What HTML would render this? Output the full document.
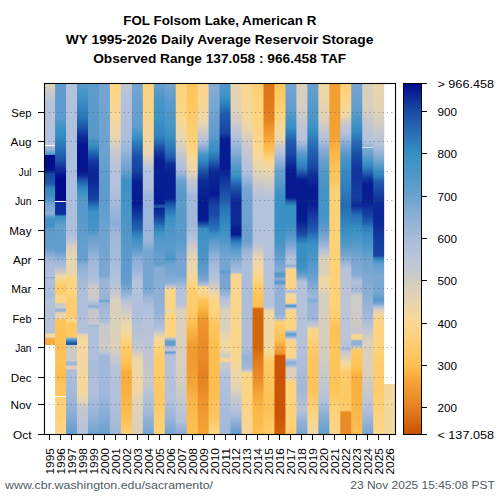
<!DOCTYPE html><html><head><meta charset="utf-8"><style>html,body{margin:0;padding:0;background:#fff;overflow:hidden;}svg{display:block;}text{font-family:"Liberation Sans",sans-serif;}</style></head><body><svg width="500" height="500" viewBox="0 0 500 500"><defs><linearGradient id="cb" gradientUnits="userSpaceOnUse" x1="0" y1="83" x2="0" y2="434"><stop offset="0.0000" stop-color="#000a8a"/><stop offset="0.0798" stop-color="#1a4aa5"/><stop offset="0.1396" stop-color="#2a6cb4"/><stop offset="0.1994" stop-color="#3590c4"/><stop offset="0.2621" stop-color="#4e98c8"/><stop offset="0.3219" stop-color="#6aa2cf"/><stop offset="0.3818" stop-color="#8cb0d4"/><stop offset="0.4416" stop-color="#a8bcd8"/><stop offset="0.4900" stop-color="#b8c4dc"/><stop offset="0.5271" stop-color="#c4c8d2"/><stop offset="0.5613" stop-color="#d0ccc4"/><stop offset="0.6182" stop-color="#e6d4b2"/><stop offset="0.6838" stop-color="#fbd892"/><stop offset="0.7464" stop-color="#fdcc70"/><stop offset="0.8034" stop-color="#fdc155"/><stop offset="0.8547" stop-color="#f5a035"/><stop offset="0.9231" stop-color="#e58025"/><stop offset="0.9601" stop-color="#d96a12"/><stop offset="1.0000" stop-color="#c85000"/></linearGradient><linearGradient id="g0" gradientUnits="userSpaceOnUse" x1="0" y1="83" x2="0" y2="434"><stop offset="0.0000" stop-color="#e2d3b6"/><stop offset="0.0085" stop-color="#dad0bc"/><stop offset="0.0171" stop-color="#d2ccc3"/><stop offset="0.0256" stop-color="#cac9ca"/><stop offset="0.0342" stop-color="#c5c7cf"/><stop offset="0.0427" stop-color="#c0c6d3"/><stop offset="0.0513" stop-color="#bbc4d7"/><stop offset="0.0598" stop-color="#b6c3da"/><stop offset="0.1766" stop-color="#b4c2dc"/><stop offset="0.1795" stop-color="#a7bcda"/><stop offset="0.1909" stop-color="#8cafd6"/><stop offset="0.2037" stop-color="#4e96c8"/><stop offset="0.2057" stop-color="#000a8a"/><stop offset="0.2479" stop-color="#03108d"/><stop offset="0.2593" stop-color="#1847a4"/><stop offset="0.2877" stop-color="#205cad"/><stop offset="0.2991" stop-color="#3285bf"/><stop offset="0.3219" stop-color="#3c91c5"/><stop offset="0.3305" stop-color="#4c95c8"/><stop offset="0.3390" stop-color="#619dcd"/><stop offset="0.3504" stop-color="#7da8d3"/><stop offset="0.3732" stop-color="#89add6"/><stop offset="0.3846" stop-color="#4a95c7"/><stop offset="0.4074" stop-color="#3c91c5"/><stop offset="0.4160" stop-color="#5b9bcb"/><stop offset="0.4701" stop-color="#619dcd"/><stop offset="0.4805" stop-color="#76a5d2"/><stop offset="0.4910" stop-color="#8cafd6"/><stop offset="0.5014" stop-color="#a1b8da"/><stop offset="0.5499" stop-color="#b4c2dc"/><stop offset="0.5516" stop-color="#b4c2dc"/><stop offset="0.5541" stop-color="#89add6"/><stop offset="0.5575" stop-color="#aebfdb"/><stop offset="0.5670" stop-color="#b1c0dc"/><stop offset="0.6040" stop-color="#a7bcda"/><stop offset="0.6182" stop-color="#b4c2dc"/><stop offset="0.7123" stop-color="#b4c2dc"/><stop offset="0.7151" stop-color="#f6d89c"/><stop offset="0.7222" stop-color="#f6d89c"/><stop offset="0.7251" stop-color="#cecbc6"/><stop offset="0.7279" stop-color="#f8b040"/><stop offset="0.7450" stop-color="#f6aa3c"/><stop offset="0.7464" stop-color="#ffffff"/><stop offset="1.0000" stop-color="#ffffff"/></linearGradient><linearGradient id="g1" gradientUnits="userSpaceOnUse" x1="0" y1="83" x2="0" y2="434"><stop offset="0.0000" stop-color="#619dcd"/><stop offset="0.0997" stop-color="#5b9bcb"/><stop offset="0.1083" stop-color="#5197c9"/><stop offset="0.1168" stop-color="#4a95c7"/><stop offset="0.1254" stop-color="#4393c6"/><stop offset="0.1339" stop-color="#3c91c5"/><stop offset="0.1624" stop-color="#3285bf"/><stop offset="0.1909" stop-color="#256cb4"/><stop offset="0.2194" stop-color="#1d54aa"/><stop offset="0.2289" stop-color="#1847a4"/><stop offset="0.2384" stop-color="#12389e"/><stop offset="0.2479" stop-color="#0c2997"/><stop offset="0.2707" stop-color="#000a8a"/><stop offset="0.3362" stop-color="#000a8a"/><stop offset="0.3390" stop-color="#0e2e99"/><stop offset="0.3732" stop-color="#0e2e99"/><stop offset="0.3803" stop-color="#3890c4"/><stop offset="0.3910" stop-color="#4a95c7"/><stop offset="0.4017" stop-color="#619dcd"/><stop offset="0.4758" stop-color="#619dcd"/><stop offset="0.4843" stop-color="#70a3d0"/><stop offset="0.4929" stop-color="#81aad4"/><stop offset="0.5014" stop-color="#92b1d8"/><stop offset="0.5100" stop-color="#a1b8da"/><stop offset="0.5214" stop-color="#aabddb"/><stop offset="0.5299" stop-color="#bdc5d5"/><stop offset="0.5385" stop-color="#cfcbc5"/><stop offset="0.5470" stop-color="#e8d6b0"/><stop offset="0.5556" stop-color="#f6d89c"/><stop offset="0.5641" stop-color="#fed47e"/><stop offset="0.5783" stop-color="#fecb69"/><stop offset="0.5983" stop-color="#fecb69"/><stop offset="0.6068" stop-color="#fbd68a"/><stop offset="0.6239" stop-color="#fbd68a"/><stop offset="0.6296" stop-color="#cecbc6"/><stop offset="0.6410" stop-color="#cecbc6"/><stop offset="0.6439" stop-color="#97b4d8"/><stop offset="0.6496" stop-color="#97b4d8"/><stop offset="0.6553" stop-color="#e8d6b0"/><stop offset="0.6695" stop-color="#e8d6b0"/><stop offset="0.6752" stop-color="#fdc45a"/><stop offset="0.7521" stop-color="#fdc257"/><stop offset="0.8006" stop-color="#fdc45a"/><stop offset="0.8205" stop-color="#fcbf4f"/><stop offset="0.8405" stop-color="#fcbf4f"/><stop offset="0.8547" stop-color="#fec65f"/><stop offset="0.8917" stop-color="#fec65f"/><stop offset="0.8946" stop-color="#fed074"/><stop offset="0.9516" stop-color="#fed279"/><stop offset="1.0000" stop-color="#fbd68a"/></linearGradient><linearGradient id="g2" gradientUnits="userSpaceOnUse" x1="0" y1="83" x2="0" y2="434"><stop offset="0.0000" stop-color="#b4c2dc"/><stop offset="0.2507" stop-color="#aebfdb"/><stop offset="0.4274" stop-color="#aebfdb"/><stop offset="0.4473" stop-color="#bcc4d6"/><stop offset="0.4573" stop-color="#c8c8cc"/><stop offset="0.4672" stop-color="#dbd0bb"/><stop offset="0.5014" stop-color="#e8d6b0"/><stop offset="0.5413" stop-color="#e8d6b0"/><stop offset="0.5556" stop-color="#fcd584"/><stop offset="0.5726" stop-color="#fcd584"/><stop offset="0.6011" stop-color="#fed47e"/><stop offset="0.6182" stop-color="#fecd6e"/><stop offset="0.6667" stop-color="#fecd6e"/><stop offset="0.6724" stop-color="#fbd68a"/><stop offset="0.6781" stop-color="#fbd68a"/><stop offset="0.6838" stop-color="#fec964"/><stop offset="0.7236" stop-color="#fec964"/><stop offset="0.7265" stop-color="#9ab5d9"/><stop offset="0.7336" stop-color="#3890c4"/><stop offset="0.7422" stop-color="#1d54aa"/><stop offset="0.7464" stop-color="#2264b1"/><stop offset="0.7479" stop-color="#cbc9c9"/><stop offset="0.7521" stop-color="#cbc9c9"/><stop offset="0.7920" stop-color="#cbc9c9"/><stop offset="0.7949" stop-color="#a1b8da"/><stop offset="0.8034" stop-color="#a1b8da"/><stop offset="0.8063" stop-color="#dbd0bb"/><stop offset="0.8148" stop-color="#dbd0bb"/><stop offset="0.8177" stop-color="#aebfdb"/><stop offset="0.8775" stop-color="#a4bada"/><stop offset="0.9259" stop-color="#94b2d8"/><stop offset="0.9630" stop-color="#7da8d3"/><stop offset="1.0000" stop-color="#619dcd"/></linearGradient><linearGradient id="g3" gradientUnits="userSpaceOnUse" x1="0" y1="83" x2="0" y2="434"><stop offset="0.0000" stop-color="#619dcd"/><stop offset="0.0097" stop-color="#5799ca"/><stop offset="0.0194" stop-color="#4d96c8"/><stop offset="0.0291" stop-color="#4694c7"/><stop offset="0.0387" stop-color="#3f92c5"/><stop offset="0.0484" stop-color="#3890c4"/><stop offset="0.0570" stop-color="#358bc2"/><stop offset="0.0655" stop-color="#3387c0"/><stop offset="0.0741" stop-color="#3082be"/><stop offset="0.0826" stop-color="#2d7dbc"/><stop offset="0.0912" stop-color="#2b79ba"/><stop offset="0.0997" stop-color="#2874b8"/><stop offset="0.1254" stop-color="#1d54aa"/><stop offset="0.1510" stop-color="#0e2e99"/><stop offset="0.1766" stop-color="#04158f"/><stop offset="0.2507" stop-color="#04158f"/><stop offset="0.2650" stop-color="#0e2e99"/><stop offset="0.2735" stop-color="#1a4ca6"/><stop offset="0.2821" stop-color="#2264b1"/><stop offset="0.2906" stop-color="#2a77b9"/><stop offset="0.2991" stop-color="#3285bf"/><stop offset="0.3105" stop-color="#3c91c5"/><stop offset="0.3205" stop-color="#4794c7"/><stop offset="0.3305" stop-color="#5498ca"/><stop offset="0.5014" stop-color="#68a0ce"/><stop offset="0.5114" stop-color="#79a7d2"/><stop offset="0.5214" stop-color="#8cafd6"/><stop offset="0.5670" stop-color="#a7bcda"/><stop offset="0.7123" stop-color="#b4c2dc"/><stop offset="0.7151" stop-color="#e2d3b6"/><stop offset="0.7222" stop-color="#ebd6ac"/><stop offset="0.7265" stop-color="#f5d89e"/><stop offset="0.8775" stop-color="#f3d8a0"/><stop offset="0.9031" stop-color="#e8d6b0"/><stop offset="0.9145" stop-color="#d5cec1"/><stop offset="0.9259" stop-color="#c4c7cf"/><stop offset="1.0000" stop-color="#b4c2dc"/></linearGradient><linearGradient id="g4" gradientUnits="userSpaceOnUse" x1="0" y1="83" x2="0" y2="434"><stop offset="0.0000" stop-color="#5e9ccc"/><stop offset="0.1510" stop-color="#589aca"/><stop offset="0.1624" stop-color="#4894c7"/><stop offset="0.1738" stop-color="#3c91c5"/><stop offset="0.1823" stop-color="#3387c0"/><stop offset="0.1909" stop-color="#2a78ba"/><stop offset="0.1994" stop-color="#2264b1"/><stop offset="0.2108" stop-color="#1b50a8"/><stop offset="0.2222" stop-color="#12389e"/><stop offset="0.2507" stop-color="#0a2495"/><stop offset="0.2792" stop-color="#0c2997"/><stop offset="0.3305" stop-color="#1642a2"/><stop offset="0.3405" stop-color="#205cad"/><stop offset="0.3504" stop-color="#2874b8"/><stop offset="0.3590" stop-color="#3285bf"/><stop offset="0.3675" stop-color="#3c91c5"/><stop offset="0.4160" stop-color="#4594c6"/><stop offset="0.4274" stop-color="#5498ca"/><stop offset="0.4387" stop-color="#68a0ce"/><stop offset="0.4615" stop-color="#76a5d2"/><stop offset="0.4715" stop-color="#80aad4"/><stop offset="0.4815" stop-color="#8aaed6"/><stop offset="0.4915" stop-color="#95b2d8"/><stop offset="0.5014" stop-color="#9eb7d9"/><stop offset="0.5328" stop-color="#a7bcda"/><stop offset="0.5670" stop-color="#b4c2dc"/><stop offset="0.5783" stop-color="#cecbc6"/><stop offset="0.6125" stop-color="#cecbc6"/><stop offset="0.6239" stop-color="#b4c2dc"/><stop offset="0.6325" stop-color="#a7bcda"/><stop offset="0.6368" stop-color="#85acd5"/><stop offset="0.6410" stop-color="#a7bcda"/><stop offset="0.6467" stop-color="#c8c8cc"/><stop offset="0.6866" stop-color="#c8c8cc"/><stop offset="0.6909" stop-color="#a1b8da"/><stop offset="0.6972" stop-color="#aebfdb"/><stop offset="0.7521" stop-color="#aebfdb"/><stop offset="0.8034" stop-color="#aabddb"/><stop offset="0.8775" stop-color="#b1c0dc"/><stop offset="0.8868" stop-color="#adbfdb"/><stop offset="0.8960" stop-color="#aabddb"/><stop offset="0.9053" stop-color="#a6bbda"/><stop offset="0.9145" stop-color="#a2b9da"/><stop offset="0.9238" stop-color="#9fb7d9"/><stop offset="0.9330" stop-color="#9bb6d9"/><stop offset="0.9423" stop-color="#98b4d8"/><stop offset="0.9516" stop-color="#94b2d8"/><stop offset="0.9613" stop-color="#8cafd6"/><stop offset="0.9709" stop-color="#85acd5"/><stop offset="0.9806" stop-color="#7da8d3"/><stop offset="0.9903" stop-color="#76a5d2"/><stop offset="1.0000" stop-color="#6ea2d0"/></linearGradient><linearGradient id="g5" gradientUnits="userSpaceOnUse" x1="0" y1="83" x2="0" y2="434"><stop offset="0.0000" stop-color="#76a5d2"/><stop offset="0.2108" stop-color="#6ba1cf"/><stop offset="0.2507" stop-color="#619dcd"/><stop offset="0.3390" stop-color="#5e9ccc"/><stop offset="0.4160" stop-color="#6ea2d0"/><stop offset="0.5014" stop-color="#76a5d2"/><stop offset="0.5499" stop-color="#7da8d3"/><stop offset="0.5613" stop-color="#9ab5d9"/><stop offset="0.6154" stop-color="#9ab5d9"/><stop offset="0.6211" stop-color="#68a0ce"/><stop offset="0.6268" stop-color="#9ab5d9"/><stop offset="0.6809" stop-color="#aebfdb"/><stop offset="0.6895" stop-color="#c8c8cc"/><stop offset="0.7521" stop-color="#cecbc6"/><stop offset="0.7664" stop-color="#c2c6d1"/><stop offset="0.7778" stop-color="#a1b8da"/><stop offset="0.8775" stop-color="#a1b8da"/><stop offset="0.9516" stop-color="#85acd5"/><stop offset="1.0000" stop-color="#68a0ce"/></linearGradient><linearGradient id="g6" gradientUnits="userSpaceOnUse" x1="0" y1="83" x2="0" y2="434"><stop offset="0.0000" stop-color="#fed47e"/><stop offset="0.0399" stop-color="#fbd68a"/><stop offset="0.0997" stop-color="#f3d8a0"/><stop offset="0.1510" stop-color="#e8d6b0"/><stop offset="0.1607" stop-color="#e2d3b6"/><stop offset="0.1704" stop-color="#dbd0bb"/><stop offset="0.1801" stop-color="#d5cec1"/><stop offset="0.1897" stop-color="#cecbc6"/><stop offset="0.1994" stop-color="#c8c8cc"/><stop offset="0.2080" stop-color="#c5c7cf"/><stop offset="0.2165" stop-color="#c1c6d1"/><stop offset="0.2251" stop-color="#bec5d4"/><stop offset="0.2336" stop-color="#bbc4d7"/><stop offset="0.2422" stop-color="#b7c3d9"/><stop offset="0.2507" stop-color="#b4c2dc"/><stop offset="0.2991" stop-color="#b4c2dc"/><stop offset="0.3504" stop-color="#a1b8da"/><stop offset="0.4017" stop-color="#8cafd6"/><stop offset="0.4330" stop-color="#a1b8da"/><stop offset="0.5014" stop-color="#a7bcda"/><stop offset="0.5670" stop-color="#b4c2dc"/><stop offset="0.5755" stop-color="#b9c4d8"/><stop offset="0.5840" stop-color="#bec5d4"/><stop offset="0.5926" stop-color="#c3c6d0"/><stop offset="0.6011" stop-color="#c8c8cc"/><stop offset="0.6182" stop-color="#dbd0bb"/><stop offset="0.7521" stop-color="#dbd0bb"/><stop offset="0.7892" stop-color="#c4c7cf"/><stop offset="0.8177" stop-color="#b4c2dc"/><stop offset="0.9031" stop-color="#b1c0dc"/><stop offset="1.0000" stop-color="#a1b8da"/></linearGradient><linearGradient id="g7" gradientUnits="userSpaceOnUse" x1="0" y1="83" x2="0" y2="434"><stop offset="0.0000" stop-color="#c4c7cf"/><stop offset="0.0299" stop-color="#b4c2dc"/><stop offset="0.1510" stop-color="#aebfdb"/><stop offset="0.1994" stop-color="#94b2d8"/><stop offset="0.2080" stop-color="#8cafd6"/><stop offset="0.2165" stop-color="#85acd5"/><stop offset="0.2251" stop-color="#7da8d3"/><stop offset="0.2336" stop-color="#76a5d2"/><stop offset="0.2422" stop-color="#6ea2d0"/><stop offset="0.2507" stop-color="#68a0ce"/><stop offset="0.2612" stop-color="#5799ca"/><stop offset="0.2716" stop-color="#4894c7"/><stop offset="0.2821" stop-color="#3c91c5"/><stop offset="0.3162" stop-color="#4192c6"/><stop offset="0.3761" stop-color="#4a95c7"/><stop offset="0.5014" stop-color="#5b9bcb"/><stop offset="0.5670" stop-color="#619dcd"/><stop offset="0.5755" stop-color="#6ca1d0"/><stop offset="0.5840" stop-color="#79a7d2"/><stop offset="0.5926" stop-color="#87acd5"/><stop offset="0.6011" stop-color="#94b2d8"/><stop offset="0.6116" stop-color="#a7bcda"/><stop offset="0.6220" stop-color="#b8c3d9"/><stop offset="0.6325" stop-color="#c4c7cf"/><stop offset="0.6410" stop-color="#c8c8cc"/><stop offset="0.6496" stop-color="#cecbc6"/><stop offset="0.6581" stop-color="#d5cec1"/><stop offset="0.6667" stop-color="#dbd0bb"/><stop offset="0.6752" stop-color="#e2d3b6"/><stop offset="0.6845" stop-color="#e9d6ae"/><stop offset="0.6937" stop-color="#eed7a8"/><stop offset="0.7030" stop-color="#f2d7a2"/><stop offset="0.7123" stop-color="#f6d89c"/><stop offset="0.7222" stop-color="#fad68e"/><stop offset="0.7322" stop-color="#fdd481"/><stop offset="0.7422" stop-color="#fed075"/><stop offset="0.7521" stop-color="#fecb69"/><stop offset="0.8006" stop-color="#fdc154"/><stop offset="0.8120" stop-color="#fcba49"/><stop offset="0.8234" stop-color="#f7ad3e"/><stop offset="0.8775" stop-color="#f8b040"/><stop offset="0.9516" stop-color="#fdc052"/><stop offset="0.9613" stop-color="#fdc359"/><stop offset="0.9709" stop-color="#fec75f"/><stop offset="0.9806" stop-color="#feca66"/><stop offset="0.9903" stop-color="#fecd6d"/><stop offset="1.0000" stop-color="#fed074"/></linearGradient><linearGradient id="g8" gradientUnits="userSpaceOnUse" x1="0" y1="83" x2="0" y2="434"><stop offset="0.0000" stop-color="#76a5d2"/><stop offset="0.0484" stop-color="#6ba1cf"/><stop offset="0.1254" stop-color="#619dcd"/><stop offset="0.1339" stop-color="#5298c9"/><stop offset="0.1425" stop-color="#4794c7"/><stop offset="0.1510" stop-color="#3c91c5"/><stop offset="0.1595" stop-color="#358ac2"/><stop offset="0.1681" stop-color="#2e7fbd"/><stop offset="0.1766" stop-color="#2874b8"/><stop offset="0.1852" stop-color="#256bb4"/><stop offset="0.1937" stop-color="#2262b0"/><stop offset="0.2023" stop-color="#1f59ac"/><stop offset="0.2108" stop-color="#1b50a8"/><stop offset="0.2507" stop-color="#1642a2"/><stop offset="0.2806" stop-color="#081f93"/><stop offset="0.3419" stop-color="#061a91"/><stop offset="0.3789" stop-color="#143da0"/><stop offset="0.3882" stop-color="#1948a4"/><stop offset="0.3974" stop-color="#1c52a9"/><stop offset="0.4067" stop-color="#1f5bad"/><stop offset="0.4160" stop-color="#2264b1"/><stop offset="0.4264" stop-color="#2a78ba"/><stop offset="0.4368" stop-color="#3387c0"/><stop offset="0.4473" stop-color="#3c91c5"/><stop offset="0.4568" stop-color="#4794c7"/><stop offset="0.4663" stop-color="#5298c9"/><stop offset="0.4758" stop-color="#619dcd"/><stop offset="0.4843" stop-color="#6ea2d0"/><stop offset="0.4929" stop-color="#7da8d3"/><stop offset="0.5014" stop-color="#8cafd6"/><stop offset="0.5316" stop-color="#9ab5d9"/><stop offset="0.5405" stop-color="#a2b9da"/><stop offset="0.5493" stop-color="#a9bcdb"/><stop offset="0.5581" stop-color="#b0c0dc"/><stop offset="0.5670" stop-color="#b6c3da"/><stop offset="0.6182" stop-color="#b1c0dc"/><stop offset="0.6752" stop-color="#aebfdb"/><stop offset="0.7521" stop-color="#c0c6d2"/><stop offset="0.7621" stop-color="#cac9cb"/><stop offset="0.7721" stop-color="#d8cfbe"/><stop offset="0.7821" stop-color="#e6d5b1"/><stop offset="0.7920" stop-color="#eed7a8"/><stop offset="0.8775" stop-color="#f0d7a4"/><stop offset="0.9031" stop-color="#e2d3b6"/><stop offset="1.0000" stop-color="#dbd0bb"/></linearGradient><linearGradient id="g9" gradientUnits="userSpaceOnUse" x1="0" y1="83" x2="0" y2="434"><stop offset="0.0000" stop-color="#fed47e"/><stop offset="0.0741" stop-color="#fcd584"/><stop offset="0.1396" stop-color="#f8d796"/><stop offset="0.1909" stop-color="#eed7a8"/><stop offset="0.1994" stop-color="#e9d6ae"/><stop offset="0.2080" stop-color="#e2d3b6"/><stop offset="0.2165" stop-color="#d8cfbe"/><stop offset="0.2251" stop-color="#cecbc6"/><stop offset="0.2336" stop-color="#c4c7cf"/><stop offset="0.2422" stop-color="#bcc4d6"/><stop offset="0.2507" stop-color="#b4c2dc"/><stop offset="0.3009" stop-color="#aebfdb"/><stop offset="0.3219" stop-color="#9ab5d9"/><stop offset="0.4501" stop-color="#9ab5d9"/><stop offset="0.4606" stop-color="#8fb0d7"/><stop offset="0.4710" stop-color="#82abd4"/><stop offset="0.4815" stop-color="#76a5d2"/><stop offset="0.5014" stop-color="#76a5d2"/><stop offset="0.5869" stop-color="#76a5d2"/><stop offset="0.5969" stop-color="#85acd5"/><stop offset="0.6068" stop-color="#94b2d8"/><stop offset="0.6168" stop-color="#a1b8da"/><stop offset="0.6467" stop-color="#b4c2dc"/><stop offset="0.7521" stop-color="#bcc4d6"/><stop offset="0.8519" stop-color="#cbc9c9"/><stop offset="0.8611" stop-color="#c4c7cf"/><stop offset="0.8704" stop-color="#bfc5d3"/><stop offset="0.8796" stop-color="#bac4d8"/><stop offset="0.8889" stop-color="#b4c2dc"/><stop offset="0.9276" stop-color="#a7bcda"/><stop offset="0.9367" stop-color="#a2b9da"/><stop offset="0.9457" stop-color="#9cb6d9"/><stop offset="0.9548" stop-color="#96b3d8"/><stop offset="0.9638" stop-color="#90b0d7"/><stop offset="0.9729" stop-color="#8aaed6"/><stop offset="0.9819" stop-color="#83abd4"/><stop offset="0.9910" stop-color="#7ca8d3"/><stop offset="1.0000" stop-color="#76a5d2"/></linearGradient><linearGradient id="g10" gradientUnits="userSpaceOnUse" x1="0" y1="83" x2="0" y2="434"><stop offset="0.0000" stop-color="#6ba1cf"/><stop offset="0.0097" stop-color="#649ecd"/><stop offset="0.0194" stop-color="#5d9ccc"/><stop offset="0.0291" stop-color="#5699ca"/><stop offset="0.0387" stop-color="#4f96c8"/><stop offset="0.0484" stop-color="#4a95c7"/><stop offset="0.0997" stop-color="#3c91c5"/><stop offset="0.1510" stop-color="#3285bf"/><stop offset="0.1595" stop-color="#2b7aba"/><stop offset="0.1681" stop-color="#256cb4"/><stop offset="0.1766" stop-color="#205cad"/><stop offset="0.1966" stop-color="#12389e"/><stop offset="0.2194" stop-color="#081f93"/><stop offset="0.2806" stop-color="#081f93"/><stop offset="0.3447" stop-color="#061a91"/><stop offset="0.3476" stop-color="#1b50a8"/><stop offset="0.3547" stop-color="#1b50a8"/><stop offset="0.3575" stop-color="#0a2495"/><stop offset="0.3732" stop-color="#10339b"/><stop offset="0.3932" stop-color="#1d54aa"/><stop offset="0.4017" stop-color="#2468b3"/><stop offset="0.4103" stop-color="#2b7aba"/><stop offset="0.4245" stop-color="#3c91c5"/><stop offset="0.4359" stop-color="#4794c7"/><stop offset="0.4473" stop-color="#5498ca"/><stop offset="0.5014" stop-color="#68a0ce"/><stop offset="0.5157" stop-color="#619dcd"/><stop offset="0.5271" stop-color="#85acd5"/><stop offset="0.6524" stop-color="#94b2d8"/><stop offset="0.6623" stop-color="#9ab5d9"/><stop offset="0.6723" stop-color="#a1b8da"/><stop offset="0.6822" stop-color="#a7bcda"/><stop offset="0.6921" stop-color="#aebfdb"/><stop offset="0.7020" stop-color="#b4c2dc"/><stop offset="0.7123" stop-color="#cecbc6"/><stop offset="0.7236" stop-color="#f0d7a4"/><stop offset="0.7331" stop-color="#f7d89a"/><stop offset="0.7426" stop-color="#fad68c"/><stop offset="0.7521" stop-color="#fed47e"/><stop offset="0.7823" stop-color="#fecb69"/><stop offset="0.9031" stop-color="#fec964"/><stop offset="0.9119" stop-color="#feca66"/><stop offset="0.9207" stop-color="#fecb68"/><stop offset="0.9296" stop-color="#fecc6a"/><stop offset="0.9384" stop-color="#fecd6d"/><stop offset="0.9472" stop-color="#fece6f"/><stop offset="0.9560" stop-color="#fece71"/><stop offset="0.9648" stop-color="#fecf73"/><stop offset="0.9736" stop-color="#fed075"/><stop offset="0.9824" stop-color="#fed177"/><stop offset="0.9912" stop-color="#fed279"/><stop offset="1.0000" stop-color="#fed37b"/></linearGradient><linearGradient id="g11" gradientUnits="userSpaceOnUse" x1="0" y1="83" x2="0" y2="434"><stop offset="0.0000" stop-color="#76a5d2"/><stop offset="0.0501" stop-color="#5b9bcb"/><stop offset="0.1254" stop-color="#4594c6"/><stop offset="0.1354" stop-color="#4092c5"/><stop offset="0.1454" stop-color="#3b91c4"/><stop offset="0.1554" stop-color="#368dc3"/><stop offset="0.1655" stop-color="#3286c0"/><stop offset="0.1755" stop-color="#2e7fbd"/><stop offset="0.1843" stop-color="#2a78ba"/><stop offset="0.1932" stop-color="#2770b6"/><stop offset="0.2020" stop-color="#2366b2"/><stop offset="0.2108" stop-color="#205cad"/><stop offset="0.2208" stop-color="#1847a4"/><stop offset="0.2308" stop-color="#0e2e99"/><stop offset="0.2507" stop-color="#081f93"/><stop offset="0.3305" stop-color="#081f93"/><stop offset="0.3419" stop-color="#1a4ca6"/><stop offset="0.3519" stop-color="#2160af"/><stop offset="0.3618" stop-color="#2874b8"/><stop offset="0.3732" stop-color="#3082be"/><stop offset="0.3846" stop-color="#3890c4"/><stop offset="0.3951" stop-color="#3f92c5"/><stop offset="0.4055" stop-color="#4794c7"/><stop offset="0.4160" stop-color="#4e96c8"/><stop offset="0.4758" stop-color="#5b9bcb"/><stop offset="0.5014" stop-color="#4a95c7"/><stop offset="0.5157" stop-color="#6ea2d0"/><stop offset="0.5670" stop-color="#85acd5"/><stop offset="0.5783" stop-color="#b4c2dc"/><stop offset="0.5897" stop-color="#fbd68a"/><stop offset="0.6410" stop-color="#fcd584"/><stop offset="0.6496" stop-color="#e8d6b0"/><stop offset="0.6581" stop-color="#fed47e"/><stop offset="0.7222" stop-color="#fed47e"/><stop offset="0.7265" stop-color="#c8c8cc"/><stop offset="0.7370" stop-color="#619dcd"/><stop offset="0.7464" stop-color="#619dcd"/><stop offset="0.7521" stop-color="#bcc4d6"/><stop offset="0.7621" stop-color="#b8c3d9"/><stop offset="0.7678" stop-color="#619dcd"/><stop offset="0.7749" stop-color="#b4c2dc"/><stop offset="0.9031" stop-color="#b4c2dc"/><stop offset="0.9516" stop-color="#9ab5d9"/><stop offset="0.9613" stop-color="#94b2d8"/><stop offset="0.9709" stop-color="#8cafd6"/><stop offset="0.9806" stop-color="#85acd5"/><stop offset="0.9903" stop-color="#7da8d3"/><stop offset="1.0000" stop-color="#76a5d2"/></linearGradient><linearGradient id="g12" gradientUnits="userSpaceOnUse" x1="0" y1="83" x2="0" y2="434"><stop offset="0.0000" stop-color="#fed47e"/><stop offset="0.0741" stop-color="#fcd584"/><stop offset="0.1154" stop-color="#f6d89c"/><stop offset="0.1242" stop-color="#f3d8a0"/><stop offset="0.1330" stop-color="#f0d7a4"/><stop offset="0.1419" stop-color="#eed7a8"/><stop offset="0.1507" stop-color="#ebd6ac"/><stop offset="0.1595" stop-color="#e8d6b0"/><stop offset="0.1695" stop-color="#e0d2b7"/><stop offset="0.1795" stop-color="#d8cfbe"/><stop offset="0.1895" stop-color="#d0ccc5"/><stop offset="0.1994" stop-color="#c8c8cc"/><stop offset="0.2080" stop-color="#c3c7d0"/><stop offset="0.2165" stop-color="#bfc5d3"/><stop offset="0.2251" stop-color="#bac4d7"/><stop offset="0.2336" stop-color="#b5c2db"/><stop offset="0.2422" stop-color="#afbfdb"/><stop offset="0.2507" stop-color="#a7bcda"/><stop offset="0.2593" stop-color="#96b3d8"/><stop offset="0.2678" stop-color="#82abd4"/><stop offset="0.2764" stop-color="#6ea2d0"/><stop offset="0.3048" stop-color="#5b9bcb"/><stop offset="0.4501" stop-color="#5b9bcb"/><stop offset="0.5014" stop-color="#76a5d2"/><stop offset="0.5470" stop-color="#76a5d2"/><stop offset="0.5670" stop-color="#94b2d8"/><stop offset="0.5783" stop-color="#a4bada"/><stop offset="0.5897" stop-color="#b4c2dc"/><stop offset="0.6296" stop-color="#b4c2dc"/><stop offset="0.6382" stop-color="#c4c7cf"/><stop offset="0.6467" stop-color="#dbd0bb"/><stop offset="0.8519" stop-color="#d5cec1"/><stop offset="0.9031" stop-color="#c4c7cf"/><stop offset="0.9630" stop-color="#b4c2dc"/><stop offset="0.9722" stop-color="#a9bcdb"/><stop offset="0.9815" stop-color="#9eb7d9"/><stop offset="0.9907" stop-color="#92b1d8"/><stop offset="1.0000" stop-color="#85acd5"/></linearGradient><linearGradient id="g13" gradientUnits="userSpaceOnUse" x1="0" y1="83" x2="0" y2="434"><stop offset="0.0000" stop-color="#fdc45a"/><stop offset="0.0501" stop-color="#fec65f"/><stop offset="0.1254" stop-color="#fecd6e"/><stop offset="0.1909" stop-color="#fed47e"/><stop offset="0.1994" stop-color="#fcd587"/><stop offset="0.2080" stop-color="#f9d690"/><stop offset="0.2165" stop-color="#f7d899"/><stop offset="0.2251" stop-color="#f3d8a0"/><stop offset="0.2507" stop-color="#e8d6b0"/><stop offset="0.2650" stop-color="#d5cec1"/><stop offset="0.2739" stop-color="#cac9cb"/><stop offset="0.2829" stop-color="#c2c6d1"/><stop offset="0.2919" stop-color="#bbc4d6"/><stop offset="0.3009" stop-color="#b4c2dc"/><stop offset="0.3219" stop-color="#a1b8da"/><stop offset="0.4017" stop-color="#a1b8da"/><stop offset="0.4416" stop-color="#b4c2dc"/><stop offset="0.4540" stop-color="#c0c6d2"/><stop offset="0.4664" stop-color="#cecbc6"/><stop offset="0.5014" stop-color="#e8d6b0"/><stop offset="0.5316" stop-color="#ebd6ac"/><stop offset="0.5415" stop-color="#f0d7a4"/><stop offset="0.5514" stop-color="#f6d89c"/><stop offset="0.5613" stop-color="#f9d690"/><stop offset="0.5708" stop-color="#fcd584"/><stop offset="0.5802" stop-color="#fed279"/><stop offset="0.5897" stop-color="#fecd6e"/><stop offset="0.6524" stop-color="#fecb69"/><stop offset="0.6623" stop-color="#fec862"/><stop offset="0.6723" stop-color="#fdc45b"/><stop offset="0.6822" stop-color="#fdc153"/><stop offset="0.6921" stop-color="#fcbd4c"/><stop offset="0.7020" stop-color="#fab645"/><stop offset="0.7322" stop-color="#f4a437"/><stop offset="0.7521" stop-color="#f09a30"/><stop offset="0.8023" stop-color="#f09a30"/><stop offset="0.8519" stop-color="#f4a437"/><stop offset="0.9031" stop-color="#fab645"/><stop offset="1.0000" stop-color="#fdc154"/></linearGradient><linearGradient id="g14" gradientUnits="userSpaceOnUse" x1="0" y1="83" x2="0" y2="434"><stop offset="0.0000" stop-color="#fad68d"/><stop offset="0.0501" stop-color="#f8d796"/><stop offset="0.0997" stop-color="#eed7a8"/><stop offset="0.1097" stop-color="#e9d6ae"/><stop offset="0.1197" stop-color="#e2d3b6"/><stop offset="0.1296" stop-color="#d8cfbe"/><stop offset="0.1396" stop-color="#cecbc6"/><stop offset="0.1481" stop-color="#c4c7cf"/><stop offset="0.1567" stop-color="#bcc4d6"/><stop offset="0.1652" stop-color="#b4c2dc"/><stop offset="0.1738" stop-color="#a1b8da"/><stop offset="0.1823" stop-color="#8cafd6"/><stop offset="0.1909" stop-color="#76a5d2"/><stop offset="0.2009" stop-color="#5498ca"/><stop offset="0.2108" stop-color="#3c91c5"/><stop offset="0.2208" stop-color="#3388c0"/><stop offset="0.2308" stop-color="#2b7aba"/><stop offset="0.2407" stop-color="#2468b3"/><stop offset="0.2507" stop-color="#1d54aa"/><stop offset="0.2764" stop-color="#0e2e99"/><stop offset="0.3333" stop-color="#061a91"/><stop offset="0.3903" stop-color="#061a91"/><stop offset="0.4017" stop-color="#1a4ca6"/><stop offset="0.4160" stop-color="#3c91c5"/><stop offset="0.5014" stop-color="#4a95c7"/><stop offset="0.5328" stop-color="#5b9bcb"/><stop offset="0.5423" stop-color="#659fce"/><stop offset="0.5518" stop-color="#71a3d1"/><stop offset="0.5613" stop-color="#7da8d3"/><stop offset="0.5755" stop-color="#aebfdb"/><stop offset="0.5812" stop-color="#f8d796"/><stop offset="0.6011" stop-color="#f9d690"/><stop offset="0.6097" stop-color="#fed074"/><stop offset="0.6182" stop-color="#fdc45a"/><stop offset="0.6353" stop-color="#fcbc4a"/><stop offset="0.6453" stop-color="#f9b343"/><stop offset="0.6553" stop-color="#f6aa3c"/><stop offset="0.6652" stop-color="#f3a134"/><stop offset="0.6752" stop-color="#ee962d"/><stop offset="0.7521" stop-color="#e98b26"/><stop offset="0.7823" stop-color="#e98b26"/><stop offset="0.8319" stop-color="#e4801f"/><stop offset="0.9031" stop-color="#ed932b"/><stop offset="1.0000" stop-color="#f4a437"/></linearGradient><linearGradient id="g15" gradientUnits="userSpaceOnUse" x1="0" y1="83" x2="0" y2="434"><stop offset="0.0000" stop-color="#85acd5"/><stop offset="0.0741" stop-color="#76a5d2"/><stop offset="0.1510" stop-color="#5b9bcb"/><stop offset="0.1610" stop-color="#5097c8"/><stop offset="0.1709" stop-color="#4794c7"/><stop offset="0.1809" stop-color="#4092c5"/><stop offset="0.1909" stop-color="#3890c4"/><stop offset="0.1994" stop-color="#3285bf"/><stop offset="0.2080" stop-color="#2b7aba"/><stop offset="0.2165" stop-color="#256cb4"/><stop offset="0.2251" stop-color="#205cad"/><stop offset="0.2336" stop-color="#1a4da7"/><stop offset="0.2422" stop-color="#133b9f"/><stop offset="0.2507" stop-color="#0c2997"/><stop offset="0.3162" stop-color="#061a91"/><stop offset="0.3476" stop-color="#1642a2"/><stop offset="0.3761" stop-color="#1a4ca6"/><stop offset="0.3860" stop-color="#1e56aa"/><stop offset="0.3960" stop-color="#2160af"/><stop offset="0.4060" stop-color="#246ab4"/><stop offset="0.4160" stop-color="#2874b8"/><stop offset="0.4245" stop-color="#3285bf"/><stop offset="0.4330" stop-color="#3c91c5"/><stop offset="0.4416" stop-color="#4a95c7"/><stop offset="0.4501" stop-color="#5b9bcb"/><stop offset="0.4587" stop-color="#649ece"/><stop offset="0.4672" stop-color="#6ea2d0"/><stop offset="0.4758" stop-color="#79a7d2"/><stop offset="0.4843" stop-color="#85acd5"/><stop offset="0.4929" stop-color="#90b0d7"/><stop offset="0.5014" stop-color="#9ab5d9"/><stop offset="0.5516" stop-color="#b4c2dc"/><stop offset="0.5604" stop-color="#bcc4d6"/><stop offset="0.5692" stop-color="#c4c7cf"/><stop offset="0.5781" stop-color="#cecbc6"/><stop offset="0.5869" stop-color="#dbd0bb"/><stop offset="0.5973" stop-color="#edd7a9"/><stop offset="0.6078" stop-color="#f7d89a"/><stop offset="0.6182" stop-color="#fcd584"/><stop offset="0.6524" stop-color="#fed47e"/><stop offset="0.6624" stop-color="#fed075"/><stop offset="0.6724" stop-color="#fecc6c"/><stop offset="0.6823" stop-color="#fec863"/><stop offset="0.6923" stop-color="#fdc45a"/><stop offset="0.7521" stop-color="#fcbf4f"/><stop offset="0.8775" stop-color="#fcbf4f"/><stop offset="0.9516" stop-color="#fdc55c"/><stop offset="0.9613" stop-color="#fec965"/><stop offset="0.9709" stop-color="#fecd6e"/><stop offset="0.9806" stop-color="#fed177"/><stop offset="0.9903" stop-color="#fed480"/><stop offset="1.0000" stop-color="#fbd68a"/></linearGradient><linearGradient id="g16" gradientUnits="userSpaceOnUse" x1="0" y1="83" x2="0" y2="434"><stop offset="0.0000" stop-color="#5498ca"/><stop offset="0.0100" stop-color="#4d96c8"/><stop offset="0.0199" stop-color="#4794c7"/><stop offset="0.0299" stop-color="#4293c6"/><stop offset="0.0399" stop-color="#3c91c5"/><stop offset="0.0494" stop-color="#358ac2"/><stop offset="0.0589" stop-color="#2e7fbd"/><stop offset="0.0684" stop-color="#2874b8"/><stop offset="0.0883" stop-color="#205cad"/><stop offset="0.1425" stop-color="#1642a2"/><stop offset="0.1624" stop-color="#061a91"/><stop offset="0.2450" stop-color="#061a91"/><stop offset="0.2934" stop-color="#1642a2"/><stop offset="0.3333" stop-color="#205cad"/><stop offset="0.3647" stop-color="#2b7aba"/><stop offset="0.4160" stop-color="#3890c4"/><stop offset="0.4251" stop-color="#3e92c5"/><stop offset="0.4342" stop-color="#4493c6"/><stop offset="0.4433" stop-color="#4a95c7"/><stop offset="0.4524" stop-color="#5297c9"/><stop offset="0.4615" stop-color="#5b9bcb"/><stop offset="0.5014" stop-color="#76a5d2"/><stop offset="0.5316" stop-color="#76a5d2"/><stop offset="0.5385" stop-color="#5b9bcb"/><stop offset="0.5470" stop-color="#76a5d2"/><stop offset="0.5812" stop-color="#76a5d2"/><stop offset="0.5901" stop-color="#87acd5"/><stop offset="0.5990" stop-color="#97b4d8"/><stop offset="0.6079" stop-color="#a6bbda"/><stop offset="0.6168" stop-color="#b4c2dc"/><stop offset="0.6268" stop-color="#bfc5d3"/><stop offset="0.6368" stop-color="#cac9ca"/><stop offset="0.6467" stop-color="#dbd0bb"/><stop offset="0.7020" stop-color="#dbd0bb"/><stop offset="0.7120" stop-color="#e4d4b3"/><stop offset="0.7221" stop-color="#ead6ad"/><stop offset="0.7321" stop-color="#eed7a7"/><stop offset="0.7421" stop-color="#f2d7a2"/><stop offset="0.7521" stop-color="#f6d89c"/><stop offset="0.7621" stop-color="#ebd6ac"/><stop offset="0.7721" stop-color="#d5cec1"/><stop offset="0.7821" stop-color="#d5cec1"/><stop offset="0.7863" stop-color="#f9d690"/><stop offset="0.7920" stop-color="#f9d690"/><stop offset="0.7977" stop-color="#c8c8cc"/><stop offset="0.8120" stop-color="#c4c7cf"/><stop offset="0.8319" stop-color="#b4c2dc"/><stop offset="1.0000" stop-color="#a1b8da"/></linearGradient><linearGradient id="g17" gradientUnits="userSpaceOnUse" x1="0" y1="83" x2="0" y2="434"><stop offset="0.0000" stop-color="#e9d6ae"/><stop offset="0.0741" stop-color="#e2d3b6"/><stop offset="0.1154" stop-color="#cecbc6"/><stop offset="0.1243" stop-color="#c6c7ce"/><stop offset="0.1332" stop-color="#c0c6d2"/><stop offset="0.1421" stop-color="#bac4d7"/><stop offset="0.1510" stop-color="#b4c2dc"/><stop offset="0.1607" stop-color="#abbedb"/><stop offset="0.1704" stop-color="#a2b9da"/><stop offset="0.1801" stop-color="#99b5d9"/><stop offset="0.1897" stop-color="#8fb0d7"/><stop offset="0.1994" stop-color="#85acd5"/><stop offset="0.2080" stop-color="#79a7d2"/><stop offset="0.2165" stop-color="#6ea2d0"/><stop offset="0.2251" stop-color="#649ece"/><stop offset="0.2336" stop-color="#5b9bcb"/><stop offset="0.2422" stop-color="#5197c9"/><stop offset="0.2507" stop-color="#4a95c7"/><stop offset="0.2650" stop-color="#3890c4"/><stop offset="0.2735" stop-color="#2f81be"/><stop offset="0.2821" stop-color="#2771b7"/><stop offset="0.2906" stop-color="#205cad"/><stop offset="0.2991" stop-color="#1d53a9"/><stop offset="0.3077" stop-color="#194aa5"/><stop offset="0.3162" stop-color="#153fa1"/><stop offset="0.3248" stop-color="#11349c"/><stop offset="0.3333" stop-color="#0c2997"/><stop offset="0.4017" stop-color="#0c2997"/><stop offset="0.4188" stop-color="#061a91"/><stop offset="0.4313" stop-color="#061a91"/><stop offset="0.4413" stop-color="#1b50a8"/><stop offset="0.4513" stop-color="#2b7aba"/><stop offset="0.4635" stop-color="#3f92c5"/><stop offset="0.4758" stop-color="#5b9bcb"/><stop offset="0.4843" stop-color="#659fce"/><stop offset="0.4929" stop-color="#71a3d1"/><stop offset="0.5014" stop-color="#7da8d3"/><stop offset="0.5214" stop-color="#9ab5d9"/><stop offset="0.5399" stop-color="#aebfdb"/><stop offset="0.5456" stop-color="#f9d690"/><stop offset="0.7521" stop-color="#fbd68a"/><stop offset="0.7614" stop-color="#fad68e"/><stop offset="0.7707" stop-color="#f9d792"/><stop offset="0.7799" stop-color="#f8d796"/><stop offset="0.7892" stop-color="#f6d89a"/><stop offset="0.7984" stop-color="#f5d89e"/><stop offset="0.8077" stop-color="#f3d8a0"/><stop offset="0.8170" stop-color="#f1d7a3"/><stop offset="0.8262" stop-color="#efd7a6"/><stop offset="0.8348" stop-color="#edd7a9"/><stop offset="0.8433" stop-color="#ebd6ac"/><stop offset="0.8519" stop-color="#e9d6af"/><stop offset="0.8604" stop-color="#e5d5b3"/><stop offset="0.8689" stop-color="#e0d2b7"/><stop offset="0.8775" stop-color="#dbd0bb"/><stop offset="0.8875" stop-color="#d2ccc3"/><stop offset="0.8975" stop-color="#c9c9cb"/><stop offset="0.9076" stop-color="#c3c7d0"/><stop offset="0.9176" stop-color="#bec5d4"/><stop offset="0.9276" stop-color="#b8c3d9"/><stop offset="0.9365" stop-color="#b1c0dc"/><stop offset="0.9453" stop-color="#a7bcda"/><stop offset="0.9541" stop-color="#9eb7d9"/><stop offset="0.9630" stop-color="#94b2d8"/><stop offset="0.9722" stop-color="#87acd5"/><stop offset="0.9815" stop-color="#79a7d2"/><stop offset="0.9907" stop-color="#6ca1d0"/><stop offset="1.0000" stop-color="#619dcd"/></linearGradient><linearGradient id="g18" gradientUnits="userSpaceOnUse" x1="0" y1="83" x2="0" y2="434"><stop offset="0.0000" stop-color="#fad68d"/><stop offset="0.0501" stop-color="#f8d796"/><stop offset="0.0997" stop-color="#f3d8a0"/><stop offset="0.1083" stop-color="#f0d7a4"/><stop offset="0.1168" stop-color="#eed7a8"/><stop offset="0.1254" stop-color="#ebd6ac"/><stop offset="0.1339" stop-color="#e8d6b0"/><stop offset="0.1425" stop-color="#e2d3b6"/><stop offset="0.1510" stop-color="#dbd0bb"/><stop offset="0.1607" stop-color="#d5cec0"/><stop offset="0.1704" stop-color="#d0cbc5"/><stop offset="0.1801" stop-color="#cac9ca"/><stop offset="0.1897" stop-color="#c6c7ce"/><stop offset="0.1994" stop-color="#c2c6d1"/><stop offset="0.2507" stop-color="#b4c2dc"/><stop offset="0.2593" stop-color="#a9bddb"/><stop offset="0.2678" stop-color="#9fb7d9"/><stop offset="0.2764" stop-color="#94b2d8"/><stop offset="0.3009" stop-color="#76a5d2"/><stop offset="0.4501" stop-color="#68a0ce"/><stop offset="0.4587" stop-color="#76a5d2"/><stop offset="0.4672" stop-color="#85acd5"/><stop offset="0.4758" stop-color="#94b2d8"/><stop offset="0.5014" stop-color="#aabddb"/><stop offset="0.7521" stop-color="#aebfdb"/><stop offset="0.7806" stop-color="#94b2d8"/><stop offset="0.8120" stop-color="#a1b8da"/><stop offset="0.8205" stop-color="#c4c7cf"/><stop offset="0.8274" stop-color="#fcd584"/><stop offset="0.9276" stop-color="#fcd584"/><stop offset="0.9630" stop-color="#f9d690"/><stop offset="1.0000" stop-color="#f6d89c"/></linearGradient><linearGradient id="g19" gradientUnits="userSpaceOnUse" x1="0" y1="83" x2="0" y2="434"><stop offset="0.0000" stop-color="#fed176"/><stop offset="0.0501" stop-color="#fed37b"/><stop offset="0.1254" stop-color="#fdd481"/><stop offset="0.1994" stop-color="#f8d796"/><stop offset="0.2080" stop-color="#f6d89d"/><stop offset="0.2165" stop-color="#f2d7a1"/><stop offset="0.2251" stop-color="#efd7a6"/><stop offset="0.2336" stop-color="#ecd7ab"/><stop offset="0.2422" stop-color="#e8d6af"/><stop offset="0.2507" stop-color="#e2d3b6"/><stop offset="0.2806" stop-color="#cecbc6"/><stop offset="0.3105" stop-color="#bcc4d6"/><stop offset="0.3333" stop-color="#b4c2dc"/><stop offset="0.4501" stop-color="#b4c2dc"/><stop offset="0.4587" stop-color="#bcc4d6"/><stop offset="0.4672" stop-color="#c4c7cf"/><stop offset="0.4758" stop-color="#cecbc6"/><stop offset="0.4843" stop-color="#d9cfbd"/><stop offset="0.4929" stop-color="#e4d4b4"/><stop offset="0.5014" stop-color="#ebd6ac"/><stop offset="0.5115" stop-color="#eed7a7"/><stop offset="0.5215" stop-color="#f2d7a2"/><stop offset="0.5315" stop-color="#f6d89c"/><stop offset="0.5415" stop-color="#f8d795"/><stop offset="0.5516" stop-color="#fad68d"/><stop offset="0.5614" stop-color="#fdd480"/><stop offset="0.5713" stop-color="#fed074"/><stop offset="0.5812" stop-color="#fecb69"/><stop offset="0.6182" stop-color="#fdc257"/><stop offset="0.6368" stop-color="#fdc052"/><stop offset="0.6439" stop-color="#d56610"/><stop offset="0.7521" stop-color="#d56610"/><stop offset="0.7823" stop-color="#e0781a"/><stop offset="0.8519" stop-color="#ed932b"/><stop offset="0.8613" stop-color="#ef982e"/><stop offset="0.8708" stop-color="#f29e32"/><stop offset="0.8803" stop-color="#f4a236"/><stop offset="0.8897" stop-color="#f5a739"/><stop offset="0.8992" stop-color="#f6ac3d"/><stop offset="0.9087" stop-color="#f8b040"/><stop offset="0.9182" stop-color="#fab444"/><stop offset="0.9276" stop-color="#fbb948"/><stop offset="1.0000" stop-color="#fdc052"/></linearGradient><linearGradient id="g20" gradientUnits="userSpaceOnUse" x1="0" y1="83" x2="0" y2="434"><stop offset="0.0000" stop-color="#de7418"/><stop offset="0.0501" stop-color="#e0781a"/><stop offset="0.0997" stop-color="#e4801f"/><stop offset="0.1083" stop-color="#e68522"/><stop offset="0.1168" stop-color="#e98b26"/><stop offset="0.1254" stop-color="#ec912a"/><stop offset="0.1339" stop-color="#ee962d"/><stop offset="0.1425" stop-color="#f19c31"/><stop offset="0.1510" stop-color="#f3a134"/><stop offset="0.1610" stop-color="#f6aa3c"/><stop offset="0.1709" stop-color="#f9b343"/><stop offset="0.1809" stop-color="#fcbc4a"/><stop offset="0.1909" stop-color="#fdc052"/><stop offset="0.2004" stop-color="#fec862"/><stop offset="0.2099" stop-color="#fecf73"/><stop offset="0.2194" stop-color="#fcd584"/><stop offset="0.2298" stop-color="#f8d794"/><stop offset="0.2403" stop-color="#f2d7a1"/><stop offset="0.2507" stop-color="#ebd6ac"/><stop offset="0.2764" stop-color="#d5cec1"/><stop offset="0.3105" stop-color="#c0c6d2"/><stop offset="0.3333" stop-color="#b4c2dc"/><stop offset="0.6368" stop-color="#b4c2dc"/><stop offset="0.6439" stop-color="#d5cec1"/><stop offset="0.6524" stop-color="#f0d7a4"/><stop offset="0.7521" stop-color="#f0d7a4"/><stop offset="0.7621" stop-color="#f6d89a"/><stop offset="0.7721" stop-color="#fad68d"/><stop offset="0.7835" stop-color="#fed178"/><stop offset="0.7949" stop-color="#fec964"/><stop offset="0.8519" stop-color="#fdc45a"/><stop offset="0.9276" stop-color="#fdc154"/><stop offset="1.0000" stop-color="#fecb69"/></linearGradient><linearGradient id="g21" gradientUnits="userSpaceOnUse" x1="0" y1="83" x2="0" y2="434"><stop offset="0.0000" stop-color="#fdc45a"/><stop offset="0.0501" stop-color="#fecb69"/><stop offset="0.0997" stop-color="#fed47e"/><stop offset="0.1083" stop-color="#fcd585"/><stop offset="0.1168" stop-color="#fad68c"/><stop offset="0.1254" stop-color="#f8d793"/><stop offset="0.1339" stop-color="#f7d89a"/><stop offset="0.1425" stop-color="#f4d89f"/><stop offset="0.1510" stop-color="#f0d7a4"/><stop offset="0.1607" stop-color="#e9d6ae"/><stop offset="0.1704" stop-color="#dad0bc"/><stop offset="0.1801" stop-color="#c9c9cb"/><stop offset="0.1897" stop-color="#bec5d4"/><stop offset="0.1994" stop-color="#b4c2dc"/><stop offset="0.2080" stop-color="#a8bcdb"/><stop offset="0.2165" stop-color="#9db6d9"/><stop offset="0.2251" stop-color="#90b0d7"/><stop offset="0.2336" stop-color="#82abd4"/><stop offset="0.2422" stop-color="#74a5d1"/><stop offset="0.2507" stop-color="#68a0ce"/><stop offset="0.2906" stop-color="#5498ca"/><stop offset="0.3001" stop-color="#4a95c7"/><stop offset="0.3096" stop-color="#4192c6"/><stop offset="0.3191" stop-color="#3890c4"/><stop offset="0.4017" stop-color="#3890c4"/><stop offset="0.4513" stop-color="#4594c6"/><stop offset="0.4613" stop-color="#4a95c7"/><stop offset="0.4713" stop-color="#5197c9"/><stop offset="0.4814" stop-color="#589acb"/><stop offset="0.4914" stop-color="#609dcc"/><stop offset="0.5014" stop-color="#68a0ce"/><stop offset="0.5356" stop-color="#85acd5"/><stop offset="0.5413" stop-color="#5b9bcb"/><stop offset="0.5516" stop-color="#5b9bcb"/><stop offset="0.5556" stop-color="#85acd5"/><stop offset="0.5613" stop-color="#85acd5"/><stop offset="0.5641" stop-color="#5b9bcb"/><stop offset="0.5715" stop-color="#5b9bcb"/><stop offset="0.5755" stop-color="#94b2d8"/><stop offset="0.6610" stop-color="#94b2d8"/><stop offset="0.6724" stop-color="#b4c2dc"/><stop offset="0.6809" stop-color="#fed074"/><stop offset="0.7020" stop-color="#fec964"/><stop offset="0.7265" stop-color="#fdc154"/><stop offset="0.7350" stop-color="#fcbc4a"/><stop offset="0.7436" stop-color="#f8b040"/><stop offset="0.7521" stop-color="#f4a437"/><stop offset="0.7721" stop-color="#ed932b"/><stop offset="0.7772" stop-color="#cb5405"/><stop offset="0.9527" stop-color="#cb5405"/><stop offset="1.0000" stop-color="#d3630e"/></linearGradient><linearGradient id="g22" gradientUnits="userSpaceOnUse" x1="0" y1="83" x2="0" y2="434"><stop offset="0.0000" stop-color="#76a5d2"/><stop offset="0.0741" stop-color="#619dcd"/><stop offset="0.0826" stop-color="#599acb"/><stop offset="0.0912" stop-color="#5097c9"/><stop offset="0.0997" stop-color="#4a95c7"/><stop offset="0.1083" stop-color="#4493c6"/><stop offset="0.1168" stop-color="#3e92c5"/><stop offset="0.1254" stop-color="#3890c4"/><stop offset="0.1353" stop-color="#3285bf"/><stop offset="0.1453" stop-color="#2b7aba"/><stop offset="0.1553" stop-color="#256cb4"/><stop offset="0.1652" stop-color="#205cad"/><stop offset="0.1994" stop-color="#1a4ca6"/><stop offset="0.2080" stop-color="#1744a2"/><stop offset="0.2165" stop-color="#133b9f"/><stop offset="0.2251" stop-color="#10339b"/><stop offset="0.2336" stop-color="#0d2b98"/><stop offset="0.2422" stop-color="#0a2394"/><stop offset="0.2507" stop-color="#061a91"/><stop offset="0.3259" stop-color="#061a91"/><stop offset="0.3382" stop-color="#2160af"/><stop offset="0.3504" stop-color="#3890c4"/><stop offset="0.4017" stop-color="#3c91c5"/><stop offset="0.4116" stop-color="#4393c6"/><stop offset="0.4215" stop-color="#4a95c7"/><stop offset="0.4315" stop-color="#5398c9"/><stop offset="0.4414" stop-color="#5d9ccc"/><stop offset="0.4513" stop-color="#68a0ce"/><stop offset="0.4635" stop-color="#7da8d3"/><stop offset="0.4758" stop-color="#94b2d8"/><stop offset="0.4843" stop-color="#9fb7d9"/><stop offset="0.4929" stop-color="#a9bddb"/><stop offset="0.5014" stop-color="#b4c2dc"/><stop offset="0.5157" stop-color="#b4c2dc"/><stop offset="0.5214" stop-color="#85acd5"/><stop offset="0.5271" stop-color="#cecbc6"/><stop offset="0.5328" stop-color="#fcd584"/><stop offset="0.5869" stop-color="#fcd584"/><stop offset="0.5912" stop-color="#b4c2dc"/><stop offset="0.5966" stop-color="#b4c2dc"/><stop offset="0.6011" stop-color="#f0d7a4"/><stop offset="0.6097" stop-color="#f8d796"/><stop offset="0.6268" stop-color="#fed47e"/><stop offset="0.6296" stop-color="#b4c2dc"/><stop offset="0.6353" stop-color="#3890c4"/><stop offset="0.6410" stop-color="#b4c2dc"/><stop offset="0.6467" stop-color="#eed7a8"/><stop offset="0.6524" stop-color="#fcd584"/><stop offset="0.7020" stop-color="#fcd584"/><stop offset="0.7066" stop-color="#b4c2dc"/><stop offset="0.7171" stop-color="#5b9bcb"/><stop offset="0.7265" stop-color="#b4c2dc"/><stop offset="0.7322" stop-color="#e8d6b0"/><stop offset="0.7379" stop-color="#fcd584"/><stop offset="0.7521" stop-color="#fbd68a"/><stop offset="0.7823" stop-color="#f9d690"/><stop offset="0.7892" stop-color="#b4c2dc"/><stop offset="0.7977" stop-color="#85acd5"/><stop offset="0.8074" stop-color="#b4c2dc"/><stop offset="0.8120" stop-color="#dbd0bb"/><stop offset="0.8425" stop-color="#dbd0bb"/><stop offset="0.8519" stop-color="#fed47e"/><stop offset="0.9601" stop-color="#fed279"/><stop offset="1.0000" stop-color="#fecd6e"/></linearGradient><linearGradient id="g23" gradientUnits="userSpaceOnUse" x1="0" y1="83" x2="0" y2="434"><stop offset="0.0000" stop-color="#dbd0bb"/><stop offset="0.0741" stop-color="#d5cec1"/><stop offset="0.1154" stop-color="#c2c6d1"/><stop offset="0.1652" stop-color="#b4c2dc"/><stop offset="0.1738" stop-color="#a1b8da"/><stop offset="0.1823" stop-color="#8cafd6"/><stop offset="0.1909" stop-color="#76a5d2"/><stop offset="0.2004" stop-color="#5f9ccc"/><stop offset="0.2099" stop-color="#4b95c7"/><stop offset="0.2194" stop-color="#3c91c5"/><stop offset="0.2308" stop-color="#3388c0"/><stop offset="0.2422" stop-color="#2b7aba"/><stop offset="0.2507" stop-color="#2264b1"/><stop offset="0.2593" stop-color="#1a4ca6"/><stop offset="0.2678" stop-color="#10339b"/><stop offset="0.2764" stop-color="#061a91"/><stop offset="0.3903" stop-color="#061a91"/><stop offset="0.4006" stop-color="#0b2796"/><stop offset="0.4108" stop-color="#10339b"/><stop offset="0.4211" stop-color="#1540a1"/><stop offset="0.4313" stop-color="#1a4ca6"/><stop offset="0.4414" stop-color="#2367b2"/><stop offset="0.4515" stop-color="#2d7dbc"/><stop offset="0.4615" stop-color="#3890c4"/><stop offset="0.5014" stop-color="#3890c4"/><stop offset="0.5271" stop-color="#3c91c5"/><stop offset="0.5393" stop-color="#5498ca"/><stop offset="0.5516" stop-color="#76a5d2"/><stop offset="0.5670" stop-color="#b4c2dc"/><stop offset="0.7521" stop-color="#b4c2dc"/><stop offset="0.8775" stop-color="#a1b8da"/><stop offset="0.9276" stop-color="#b8c3d9"/><stop offset="0.9365" stop-color="#b1c0dc"/><stop offset="0.9453" stop-color="#a7bcda"/><stop offset="0.9541" stop-color="#9eb7d9"/><stop offset="0.9630" stop-color="#94b2d8"/><stop offset="1.0000" stop-color="#76a5d2"/></linearGradient><linearGradient id="g24" gradientUnits="userSpaceOnUse" x1="0" y1="83" x2="0" y2="434"><stop offset="0.0000" stop-color="#68a0ce"/><stop offset="0.0501" stop-color="#5b9bcb"/><stop offset="0.1054" stop-color="#4a95c7"/><stop offset="0.1339" stop-color="#3890c4"/><stop offset="0.1624" stop-color="#2b7aba"/><stop offset="0.1909" stop-color="#2264b1"/><stop offset="0.2336" stop-color="#1a4ca6"/><stop offset="0.2621" stop-color="#0e2e99"/><stop offset="0.3048" stop-color="#061a91"/><stop offset="0.3476" stop-color="#081f93"/><stop offset="0.3761" stop-color="#12389e"/><stop offset="0.4217" stop-color="#205cad"/><stop offset="0.4315" stop-color="#266fb6"/><stop offset="0.4414" stop-color="#2d7dbc"/><stop offset="0.4513" stop-color="#358ac2"/><stop offset="0.4613" stop-color="#3990c4"/><stop offset="0.4713" stop-color="#3e92c5"/><stop offset="0.4814" stop-color="#4393c6"/><stop offset="0.4914" stop-color="#4995c7"/><stop offset="0.5014" stop-color="#4e96c8"/><stop offset="0.5316" stop-color="#5b9bcb"/><stop offset="0.5670" stop-color="#76a5d2"/><stop offset="0.5759" stop-color="#7fa9d4"/><stop offset="0.5848" stop-color="#88add5"/><stop offset="0.5938" stop-color="#91b1d7"/><stop offset="0.6027" stop-color="#99b5d9"/><stop offset="0.6117" stop-color="#a1b8da"/><stop offset="0.6154" stop-color="#85acd5"/><stop offset="0.6239" stop-color="#85acd5"/><stop offset="0.6268" stop-color="#9ab5d9"/><stop offset="0.6724" stop-color="#9ab5d9"/><stop offset="0.6823" stop-color="#b6c3da"/><stop offset="0.6923" stop-color="#c8c8cc"/><stop offset="0.7020" stop-color="#fad68d"/><stop offset="0.7120" stop-color="#fcd586"/><stop offset="0.7221" stop-color="#fed47f"/><stop offset="0.7321" stop-color="#fed278"/><stop offset="0.7421" stop-color="#fecf72"/><stop offset="0.7521" stop-color="#fecc6c"/><stop offset="0.7892" stop-color="#fdc55c"/><stop offset="0.8775" stop-color="#fdc55c"/><stop offset="0.8875" stop-color="#fec861"/><stop offset="0.8975" stop-color="#feca67"/><stop offset="0.9076" stop-color="#fecc6c"/><stop offset="0.9176" stop-color="#fece71"/><stop offset="0.9276" stop-color="#fed176"/><stop offset="0.9367" stop-color="#fed37c"/><stop offset="0.9457" stop-color="#fdd482"/><stop offset="0.9548" stop-color="#fbd588"/><stop offset="0.9638" stop-color="#fad68e"/><stop offset="0.9729" stop-color="#f8d795"/><stop offset="0.9819" stop-color="#f6d89b"/><stop offset="0.9910" stop-color="#f3d8a0"/><stop offset="1.0000" stop-color="#f0d7a4"/></linearGradient><linearGradient id="g25" gradientUnits="userSpaceOnUse" x1="0" y1="83" x2="0" y2="434"><stop offset="0.0000" stop-color="#f0d7a4"/><stop offset="0.0501" stop-color="#ebd6ac"/><stop offset="0.1054" stop-color="#dbd0bb"/><stop offset="0.1339" stop-color="#c4c7cf"/><stop offset="0.1443" stop-color="#bcc4d6"/><stop offset="0.1548" stop-color="#b4c2dc"/><stop offset="0.1652" stop-color="#a7bcda"/><stop offset="0.1738" stop-color="#9db6d9"/><stop offset="0.1823" stop-color="#91b1d7"/><stop offset="0.1909" stop-color="#85acd5"/><stop offset="0.2194" stop-color="#68a0ce"/><stop offset="0.2507" stop-color="#5498ca"/><stop offset="0.2991" stop-color="#4594c6"/><stop offset="0.3761" stop-color="#4594c6"/><stop offset="0.3861" stop-color="#4a95c7"/><stop offset="0.3961" stop-color="#5197c9"/><stop offset="0.4062" stop-color="#589acb"/><stop offset="0.4162" stop-color="#609dcc"/><stop offset="0.4262" stop-color="#68a0ce"/><stop offset="0.4363" stop-color="#76a5d2"/><stop offset="0.4463" stop-color="#85acd5"/><stop offset="0.4563" stop-color="#94b2d8"/><stop offset="0.4664" stop-color="#a1b8da"/><stop offset="0.4764" stop-color="#b5c2db"/><stop offset="0.4863" stop-color="#c2c6d1"/><stop offset="0.5014" stop-color="#dbd0bb"/><stop offset="0.5413" stop-color="#dbd0bb"/><stop offset="0.5513" stop-color="#e9d6ae"/><stop offset="0.5613" stop-color="#f0d7a4"/><stop offset="0.5766" stop-color="#eed7a8"/><stop offset="0.5858" stop-color="#e9d6af"/><stop offset="0.5949" stop-color="#dfd2b7"/><stop offset="0.6040" stop-color="#d5cec1"/><stop offset="0.7521" stop-color="#d5cec1"/><stop offset="0.8023" stop-color="#cecbc6"/><stop offset="0.8519" stop-color="#c4c7cf"/><stop offset="0.9031" stop-color="#b4c2dc"/><stop offset="0.9130" stop-color="#abbedb"/><stop offset="0.9230" stop-color="#a2b9da"/><stop offset="0.9329" stop-color="#99b5d9"/><stop offset="0.9428" stop-color="#8fb0d7"/><stop offset="0.9527" stop-color="#85acd5"/><stop offset="0.9622" stop-color="#7da8d3"/><stop offset="0.9716" stop-color="#76a5d2"/><stop offset="0.9811" stop-color="#6ea2d0"/><stop offset="0.9905" stop-color="#68a0ce"/><stop offset="1.0000" stop-color="#619dcd"/></linearGradient><linearGradient id="g26" gradientUnits="userSpaceOnUse" x1="0" y1="83" x2="0" y2="434"><stop offset="0.0000" stop-color="#f29e32"/><stop offset="0.1510" stop-color="#f3a134"/><stop offset="0.1994" stop-color="#fbb948"/><stop offset="0.2507" stop-color="#fdc45a"/><stop offset="0.2806" stop-color="#fec65f"/><stop offset="0.2927" stop-color="#fecc6a"/><stop offset="0.3048" stop-color="#fed176"/><stop offset="0.6268" stop-color="#fed279"/><stop offset="0.6769" stop-color="#fecb69"/><stop offset="0.7020" stop-color="#fdc154"/><stop offset="0.7521" stop-color="#fdc55c"/><stop offset="0.8775" stop-color="#fdc45a"/><stop offset="0.8875" stop-color="#fec75f"/><stop offset="0.8975" stop-color="#fec965"/><stop offset="0.9076" stop-color="#fecc6b"/><stop offset="0.9176" stop-color="#fece70"/><stop offset="0.9276" stop-color="#fed176"/><stop offset="1.0000" stop-color="#fad68d"/></linearGradient><linearGradient id="g27" gradientUnits="userSpaceOnUse" x1="0" y1="83" x2="0" y2="434"><stop offset="0.0000" stop-color="#fed074"/><stop offset="0.0501" stop-color="#fbd68a"/><stop offset="0.0769" stop-color="#f6d89c"/><stop offset="0.0855" stop-color="#f0d7a5"/><stop offset="0.0940" stop-color="#e9d6ae"/><stop offset="0.1026" stop-color="#ddd1ba"/><stop offset="0.1111" stop-color="#cecbc6"/><stop offset="0.1211" stop-color="#c4c7cf"/><stop offset="0.1311" stop-color="#bcc4d6"/><stop offset="0.1410" stop-color="#b4c2dc"/><stop offset="0.1510" stop-color="#a7bcda"/><stop offset="0.1632" stop-color="#94b2d8"/><stop offset="0.1755" stop-color="#7da8d3"/><stop offset="0.1855" stop-color="#6ea2d0"/><stop offset="0.1956" stop-color="#619dcd"/><stop offset="0.2056" stop-color="#5498ca"/><stop offset="0.2157" stop-color="#4a95c7"/><stop offset="0.2244" stop-color="#4493c6"/><stop offset="0.2332" stop-color="#3f92c5"/><stop offset="0.2420" stop-color="#3990c4"/><stop offset="0.2507" stop-color="#358ac2"/><stop offset="0.2764" stop-color="#3285bf"/><stop offset="0.3504" stop-color="#256cb4"/><stop offset="0.4017" stop-color="#3285bf"/><stop offset="0.4116" stop-color="#358cc2"/><stop offset="0.4215" stop-color="#3a90c4"/><stop offset="0.4315" stop-color="#3f92c5"/><stop offset="0.4414" stop-color="#4493c6"/><stop offset="0.4513" stop-color="#4a95c7"/><stop offset="0.4613" stop-color="#5398c9"/><stop offset="0.4713" stop-color="#5f9ccc"/><stop offset="0.4814" stop-color="#6aa1cf"/><stop offset="0.4914" stop-color="#77a6d2"/><stop offset="0.5014" stop-color="#85acd5"/><stop offset="0.5119" stop-color="#98b4d9"/><stop offset="0.5223" stop-color="#a9bddb"/><stop offset="0.5328" stop-color="#b8c3d9"/><stop offset="0.6182" stop-color="#bec5d4"/><stop offset="0.7322" stop-color="#bcc4d6"/><stop offset="0.7521" stop-color="#b8c3d9"/><stop offset="0.7578" stop-color="#9ab5d9"/><stop offset="0.7635" stop-color="#c4c7cf"/><stop offset="0.7823" stop-color="#dbd0bb"/><stop offset="0.7923" stop-color="#ecd7aa"/><stop offset="0.8023" stop-color="#f6d89c"/><stop offset="0.8128" stop-color="#fdd582"/><stop offset="0.8234" stop-color="#fecc6c"/><stop offset="0.9031" stop-color="#fec964"/><stop offset="0.9328" stop-color="#fecc6c"/><stop offset="0.9373" stop-color="#e98b26"/><stop offset="1.0000" stop-color="#e98b26"/></linearGradient><linearGradient id="g28" gradientUnits="userSpaceOnUse" x1="0" y1="83" x2="0" y2="434"><stop offset="0.0000" stop-color="#76a5d2"/><stop offset="0.0741" stop-color="#619dcd"/><stop offset="0.0833" stop-color="#599acb"/><stop offset="0.0926" stop-color="#5197c9"/><stop offset="0.1019" stop-color="#4b95c7"/><stop offset="0.1111" stop-color="#4594c6"/><stop offset="0.1396" stop-color="#358ac2"/><stop offset="0.1491" stop-color="#2f81be"/><stop offset="0.1586" stop-color="#2a78ba"/><stop offset="0.1681" stop-color="#256cb4"/><stop offset="0.1994" stop-color="#1b50a8"/><stop offset="0.2507" stop-color="#10339b"/><stop offset="0.3259" stop-color="#143da0"/><stop offset="0.3504" stop-color="#0c2997"/><stop offset="0.3590" stop-color="#1642a2"/><stop offset="0.3675" stop-color="#1e58ab"/><stop offset="0.3761" stop-color="#256cb4"/><stop offset="0.3860" stop-color="#2a77b9"/><stop offset="0.3960" stop-color="#2e7fbd"/><stop offset="0.4060" stop-color="#3388c0"/><stop offset="0.4160" stop-color="#3890c4"/><stop offset="0.4251" stop-color="#3e92c5"/><stop offset="0.4342" stop-color="#4493c6"/><stop offset="0.4433" stop-color="#4a95c7"/><stop offset="0.4524" stop-color="#5297c9"/><stop offset="0.4615" stop-color="#5b9bcb"/><stop offset="0.5014" stop-color="#76a5d2"/><stop offset="0.5470" stop-color="#85acd5"/><stop offset="0.5570" stop-color="#9eb7d9"/><stop offset="0.5670" stop-color="#b4c2dc"/><stop offset="0.5917" stop-color="#a1b8da"/><stop offset="0.6068" stop-color="#cecbc6"/><stop offset="0.6923" stop-color="#cecbc6"/><stop offset="0.7123" stop-color="#c2c6d1"/><stop offset="0.7179" stop-color="#f9d690"/><stop offset="0.7293" stop-color="#f9d690"/><stop offset="0.7350" stop-color="#94b2d8"/><stop offset="0.7464" stop-color="#94b2d8"/><stop offset="0.7521" stop-color="#c4c7cf"/><stop offset="0.7607" stop-color="#fec964"/><stop offset="0.8023" stop-color="#fdc45a"/><stop offset="0.8122" stop-color="#fdbf51"/><stop offset="0.8220" stop-color="#fbba48"/><stop offset="0.8319" stop-color="#f8b040"/><stop offset="0.9031" stop-color="#f9b343"/><stop offset="1.0000" stop-color="#fdc052"/></linearGradient><linearGradient id="g29" gradientUnits="userSpaceOnUse" x1="0" y1="83" x2="0" y2="434"><stop offset="0.0000" stop-color="#dbd0bb"/><stop offset="0.0741" stop-color="#d8cfbe"/><stop offset="0.1103" stop-color="#c4c7cf"/><stop offset="0.1652" stop-color="#b4c2dc"/><stop offset="0.1738" stop-color="#a4bada"/><stop offset="0.1823" stop-color="#94b2d8"/><stop offset="0.1852" stop-color="#7da8d3"/><stop offset="0.2051" stop-color="#68a0ce"/><stop offset="0.2151" stop-color="#5197c9"/><stop offset="0.2251" stop-color="#4192c6"/><stop offset="0.2336" stop-color="#368cc2"/><stop offset="0.2422" stop-color="#2d7dbc"/><stop offset="0.2507" stop-color="#256cb4"/><stop offset="0.2607" stop-color="#1d54aa"/><stop offset="0.2707" stop-color="#12389e"/><stop offset="0.2906" stop-color="#061a91"/><stop offset="0.3362" stop-color="#081f93"/><stop offset="0.3761" stop-color="#1642a2"/><stop offset="0.3960" stop-color="#205cad"/><stop offset="0.4074" stop-color="#2874b8"/><stop offset="0.4188" stop-color="#3285bf"/><stop offset="0.4473" stop-color="#4192c6"/><stop offset="0.4563" stop-color="#4794c7"/><stop offset="0.4653" stop-color="#4d96c8"/><stop offset="0.4744" stop-color="#5498ca"/><stop offset="0.4834" stop-color="#5d9ccc"/><stop offset="0.4924" stop-color="#659fce"/><stop offset="0.5014" stop-color="#6ea2d0"/><stop offset="0.6011" stop-color="#8cafd6"/><stop offset="0.6610" stop-color="#a1b8da"/><stop offset="0.6923" stop-color="#b8c3d9"/><stop offset="0.7023" stop-color="#bfc5d3"/><stop offset="0.7123" stop-color="#c6c7ce"/><stop offset="0.7222" stop-color="#d0ccc5"/><stop offset="0.7322" stop-color="#dbd0bb"/><stop offset="0.8274" stop-color="#dbd0bb"/><stop offset="0.8775" stop-color="#c8c8cc"/><stop offset="0.8875" stop-color="#c4c7cf"/><stop offset="0.8975" stop-color="#c0c6d2"/><stop offset="0.9076" stop-color="#bcc4d6"/><stop offset="0.9176" stop-color="#b8c3d9"/><stop offset="0.9276" stop-color="#b4c2dc"/><stop offset="0.9367" stop-color="#adbedb"/><stop offset="0.9457" stop-color="#a6bbda"/><stop offset="0.9548" stop-color="#9eb7d9"/><stop offset="0.9638" stop-color="#97b4d8"/><stop offset="0.9729" stop-color="#8fb0d7"/><stop offset="0.9819" stop-color="#87acd5"/><stop offset="0.9910" stop-color="#7ea9d3"/><stop offset="1.0000" stop-color="#76a5d2"/></linearGradient><linearGradient id="g30" gradientUnits="userSpaceOnUse" x1="0" y1="83" x2="0" y2="434"><stop offset="0.0000" stop-color="#ebd6ac"/><stop offset="0.0741" stop-color="#e2d3b6"/><stop offset="0.1254" stop-color="#cecbc6"/><stop offset="0.1354" stop-color="#c7c8cd"/><stop offset="0.1454" stop-color="#c2c6d0"/><stop offset="0.1554" stop-color="#bec5d4"/><stop offset="0.1655" stop-color="#b9c3d8"/><stop offset="0.1755" stop-color="#b4c2dc"/><stop offset="0.1854" stop-color="#a7bcda"/><stop offset="0.1953" stop-color="#9ab5d9"/><stop offset="0.2052" stop-color="#8cafd6"/><stop offset="0.2152" stop-color="#7da8d3"/><stop offset="0.2251" stop-color="#6ea2d0"/><stop offset="0.2336" stop-color="#5b9bcb"/><stop offset="0.2422" stop-color="#4a95c7"/><stop offset="0.2507" stop-color="#3c91c5"/><stop offset="0.2607" stop-color="#3285bf"/><stop offset="0.2707" stop-color="#2874b8"/><stop offset="0.2806" stop-color="#205cad"/><stop offset="0.3248" stop-color="#12389e"/><stop offset="0.3618" stop-color="#0a2495"/><stop offset="0.4017" stop-color="#0c2997"/><stop offset="0.4473" stop-color="#143da0"/><stop offset="0.4915" stop-color="#1642a2"/><stop offset="0.5014" stop-color="#358ac2"/><stop offset="0.5157" stop-color="#619dcd"/><stop offset="0.5516" stop-color="#7da8d3"/><stop offset="0.6011" stop-color="#76a5d2"/><stop offset="0.6097" stop-color="#649ece"/><stop offset="0.6182" stop-color="#5498ca"/><stop offset="0.6268" stop-color="#6ea2d0"/><stop offset="0.6382" stop-color="#b4c2dc"/><stop offset="0.6467" stop-color="#dbd0bb"/><stop offset="0.6570" stop-color="#f0d7a4"/><stop offset="0.6661" stop-color="#f8d796"/><stop offset="0.6752" stop-color="#fcd584"/><stop offset="0.7521" stop-color="#fed47e"/><stop offset="0.8034" stop-color="#fecc6c"/><stop offset="0.8775" stop-color="#fecc6c"/><stop offset="0.8862" stop-color="#fecd6e"/><stop offset="0.8950" stop-color="#fece70"/><stop offset="0.9037" stop-color="#fecf72"/><stop offset="0.9125" stop-color="#fed075"/><stop offset="0.9212" stop-color="#fed177"/><stop offset="0.9300" stop-color="#fed279"/><stop offset="0.9387" stop-color="#fed37b"/><stop offset="0.9475" stop-color="#fed47e"/><stop offset="0.9562" stop-color="#fdd480"/><stop offset="0.9650" stop-color="#fdd583"/><stop offset="0.9737" stop-color="#fcd585"/><stop offset="0.9825" stop-color="#fbd588"/><stop offset="0.9912" stop-color="#fbd68a"/><stop offset="1.0000" stop-color="#fad68d"/></linearGradient><linearGradient id="g31" gradientUnits="userSpaceOnUse" x1="0" y1="83" x2="0" y2="434"><stop offset="0.0000" stop-color="#ffffff"/><stop offset="0.8575" stop-color="#ffffff"/><stop offset="0.8575" stop-color="#f3d8a0"/><stop offset="1.0000" stop-color="#f3d8a0"/></linearGradient></defs><rect x="44.100" y="83" width="11.970" height="351" fill="url(#g0)"/><rect x="55.070" y="83" width="11.970" height="351" fill="url(#g1)"/><rect x="66.040" y="83" width="11.970" height="351" fill="url(#g2)"/><rect x="77.010" y="83" width="11.970" height="351" fill="url(#g3)"/><rect x="87.980" y="83" width="11.970" height="351" fill="url(#g4)"/><rect x="98.950" y="83" width="11.970" height="351" fill="url(#g5)"/><rect x="109.920" y="83" width="11.970" height="351" fill="url(#g6)"/><rect x="120.890" y="83" width="11.970" height="351" fill="url(#g7)"/><rect x="131.860" y="83" width="11.970" height="351" fill="url(#g8)"/><rect x="142.830" y="83" width="11.970" height="351" fill="url(#g9)"/><rect x="153.800" y="83" width="11.970" height="351" fill="url(#g10)"/><rect x="164.770" y="83" width="11.970" height="351" fill="url(#g11)"/><rect x="175.740" y="83" width="11.970" height="351" fill="url(#g12)"/><rect x="186.710" y="83" width="11.970" height="351" fill="url(#g13)"/><rect x="197.680" y="83" width="11.970" height="351" fill="url(#g14)"/><rect x="208.650" y="83" width="11.970" height="351" fill="url(#g15)"/><rect x="219.620" y="83" width="11.970" height="351" fill="url(#g16)"/><rect x="230.590" y="83" width="11.970" height="351" fill="url(#g17)"/><rect x="241.560" y="83" width="11.970" height="351" fill="url(#g18)"/><rect x="252.530" y="83" width="11.970" height="351" fill="url(#g19)"/><rect x="263.500" y="83" width="11.970" height="351" fill="url(#g20)"/><rect x="274.470" y="83" width="11.970" height="351" fill="url(#g21)"/><rect x="285.440" y="83" width="11.970" height="351" fill="url(#g22)"/><rect x="296.410" y="83" width="11.970" height="351" fill="url(#g23)"/><rect x="307.380" y="83" width="11.970" height="351" fill="url(#g24)"/><rect x="318.350" y="83" width="11.970" height="351" fill="url(#g25)"/><rect x="329.320" y="83" width="11.970" height="351" fill="url(#g26)"/><rect x="340.290" y="83" width="11.970" height="351" fill="url(#g27)"/><rect x="351.260" y="83" width="11.970" height="351" fill="url(#g28)"/><rect x="362.230" y="83" width="11.970" height="351" fill="url(#g29)"/><rect x="373.200" y="83" width="11.970" height="351" fill="url(#g30)"/><rect x="384.170" y="83" width="10.970" height="351" fill="url(#g31)"/><rect x="44" y="145" width="11" height="1" fill="#ffffff"/><rect x="55" y="201" width="11" height="1" fill="#ffffff"/><rect x="55" y="396" width="11" height="1" fill="#ffffff"/><rect x="362" y="147" width="11" height="1" fill="#dcdcec"/><line x1="38" y1="434.50" x2="44" y2="434.50" stroke="#000" stroke-width="1"/><text x="31.5" y="438.90" font-size="11" text-anchor="end" textLength="18.42" lengthAdjust="spacingAndGlyphs" fill="#000">Oct</text><line x1="47" y1="404.50" x2="395" y2="404.50" stroke="#505058" stroke-width="1" stroke-dasharray="1.1,3.29" stroke-dashoffset="2.54" opacity="0.5"/><line x1="38" y1="404.50" x2="44" y2="404.50" stroke="#000" stroke-width="1"/><text x="31.5" y="408.90" font-size="11" text-anchor="end" textLength="20.88" lengthAdjust="spacingAndGlyphs" fill="#000">Nov</text><line x1="47" y1="377.50" x2="395" y2="377.50" stroke="#505058" stroke-width="1" stroke-dasharray="1.1,3.29" stroke-dashoffset="2.54" opacity="0.5"/><line x1="38" y1="377.50" x2="44" y2="377.50" stroke="#000" stroke-width="1"/><text x="31.5" y="381.90" font-size="11" text-anchor="end" textLength="20.68" lengthAdjust="spacingAndGlyphs" fill="#000">Dec</text><line x1="47" y1="347.50" x2="395" y2="347.50" stroke="#505058" stroke-width="1" stroke-dasharray="1.1,3.29" stroke-dashoffset="2.54" opacity="0.5"/><line x1="38" y1="347.50" x2="44" y2="347.50" stroke="#000" stroke-width="1"/><text x="31.5" y="351.90" font-size="11" text-anchor="end" textLength="16.35" lengthAdjust="spacingAndGlyphs" fill="#000">Jan</text><line x1="47" y1="318.50" x2="395" y2="318.50" stroke="#505058" stroke-width="1" stroke-dasharray="1.1,3.29" stroke-dashoffset="2.54" opacity="0.5"/><line x1="38" y1="318.50" x2="44" y2="318.50" stroke="#000" stroke-width="1"/><text x="31.5" y="322.90" font-size="11" text-anchor="end" textLength="18.88" lengthAdjust="spacingAndGlyphs" fill="#000">Feb</text><line x1="47" y1="288.50" x2="395" y2="288.50" stroke="#505058" stroke-width="1" stroke-dasharray="1.1,3.29" stroke-dashoffset="2.54" opacity="0.5"/><line x1="38" y1="288.50" x2="44" y2="288.50" stroke="#000" stroke-width="1"/><text x="31.5" y="292.90" font-size="11" text-anchor="end" textLength="20.13" lengthAdjust="spacingAndGlyphs" fill="#000">Mar</text><line x1="47" y1="259.50" x2="395" y2="259.50" stroke="#505058" stroke-width="1" stroke-dasharray="1.1,3.29" stroke-dashoffset="2.54" opacity="0.5"/><line x1="38" y1="259.50" x2="44" y2="259.50" stroke="#000" stroke-width="1"/><text x="31.5" y="263.90" font-size="11" text-anchor="end" textLength="18.43" lengthAdjust="spacingAndGlyphs" fill="#000">Apr</text><line x1="47" y1="230.50" x2="395" y2="230.50" stroke="#505058" stroke-width="1" stroke-dasharray="1.1,3.29" stroke-dashoffset="2.54" opacity="0.5"/><line x1="38" y1="230.50" x2="44" y2="230.50" stroke="#000" stroke-width="1"/><text x="31.5" y="234.90" font-size="11" text-anchor="end" textLength="22.13" lengthAdjust="spacingAndGlyphs" fill="#000">May</text><line x1="47" y1="200.50" x2="395" y2="200.50" stroke="#505058" stroke-width="1" stroke-dasharray="1.1,3.29" stroke-dashoffset="2.54" opacity="0.5"/><line x1="38" y1="200.50" x2="44" y2="200.50" stroke="#000" stroke-width="1"/><text x="31.5" y="204.90" font-size="11" text-anchor="end" textLength="16.59" lengthAdjust="spacingAndGlyphs" fill="#000">Jun</text><line x1="47" y1="171.50" x2="395" y2="171.50" stroke="#505058" stroke-width="1" stroke-dasharray="1.1,3.29" stroke-dashoffset="2.54" opacity="0.5"/><line x1="38" y1="171.50" x2="44" y2="171.50" stroke="#000" stroke-width="1"/><text x="31.5" y="175.90" font-size="11" text-anchor="end" textLength="12.68" lengthAdjust="spacingAndGlyphs" fill="#000">Jul</text><line x1="47" y1="141.50" x2="395" y2="141.50" stroke="#505058" stroke-width="1" stroke-dasharray="1.1,3.29" stroke-dashoffset="2.54" opacity="0.5"/><line x1="38" y1="141.50" x2="44" y2="141.50" stroke="#000" stroke-width="1"/><text x="31.5" y="145.90" font-size="11" text-anchor="end" textLength="20.88" lengthAdjust="spacingAndGlyphs" fill="#000">Aug</text><line x1="47" y1="112.50" x2="395" y2="112.50" stroke="#505058" stroke-width="1" stroke-dasharray="1.1,3.29" stroke-dashoffset="2.54" opacity="0.5"/><line x1="38" y1="112.50" x2="44" y2="112.50" stroke="#000" stroke-width="1"/><text x="31.5" y="116.90" font-size="11" text-anchor="end" textLength="20.13" lengthAdjust="spacingAndGlyphs" fill="#000">Sep</text><rect x="44.5" y="83.5" width="351" height="351" fill="none" stroke="#000" stroke-width="1.1"/><line x1="49.50" y1="434" x2="49.50" y2="440" stroke="#000" stroke-width="1"/><text transform="translate(53.70,448) rotate(-90)" font-size="11" text-anchor="end" textLength="26.5" lengthAdjust="spacingAndGlyphs" fill="#000">1995</text><line x1="60.50" y1="434" x2="60.50" y2="440" stroke="#000" stroke-width="1"/><text transform="translate(64.70,448) rotate(-90)" font-size="11" text-anchor="end" textLength="26.5" lengthAdjust="spacingAndGlyphs" fill="#000">1996</text><line x1="71.50" y1="434" x2="71.50" y2="440" stroke="#000" stroke-width="1"/><text transform="translate(75.70,448) rotate(-90)" font-size="11" text-anchor="end" textLength="26.5" lengthAdjust="spacingAndGlyphs" fill="#000">1997</text><line x1="82.50" y1="434" x2="82.50" y2="440" stroke="#000" stroke-width="1"/><text transform="translate(86.70,448) rotate(-90)" font-size="11" text-anchor="end" textLength="26.5" lengthAdjust="spacingAndGlyphs" fill="#000">1998</text><line x1="93.50" y1="434" x2="93.50" y2="440" stroke="#000" stroke-width="1"/><text transform="translate(97.70,448) rotate(-90)" font-size="11" text-anchor="end" textLength="26.5" lengthAdjust="spacingAndGlyphs" fill="#000">1999</text><line x1="104.50" y1="434" x2="104.50" y2="440" stroke="#000" stroke-width="1"/><text transform="translate(108.70,448) rotate(-90)" font-size="11" text-anchor="end" textLength="26.5" lengthAdjust="spacingAndGlyphs" fill="#000">2000</text><line x1="115.50" y1="434" x2="115.50" y2="440" stroke="#000" stroke-width="1"/><text transform="translate(119.70,448) rotate(-90)" font-size="11" text-anchor="end" textLength="26.5" lengthAdjust="spacingAndGlyphs" fill="#000">2001</text><line x1="126.50" y1="434" x2="126.50" y2="440" stroke="#000" stroke-width="1"/><text transform="translate(130.70,448) rotate(-90)" font-size="11" text-anchor="end" textLength="26.5" lengthAdjust="spacingAndGlyphs" fill="#000">2002</text><line x1="137.50" y1="434" x2="137.50" y2="440" stroke="#000" stroke-width="1"/><text transform="translate(141.70,448) rotate(-90)" font-size="11" text-anchor="end" textLength="26.5" lengthAdjust="spacingAndGlyphs" fill="#000">2003</text><line x1="148.50" y1="434" x2="148.50" y2="440" stroke="#000" stroke-width="1"/><text transform="translate(152.70,448) rotate(-90)" font-size="11" text-anchor="end" textLength="26.5" lengthAdjust="spacingAndGlyphs" fill="#000">2004</text><line x1="159.50" y1="434" x2="159.50" y2="440" stroke="#000" stroke-width="1"/><text transform="translate(163.70,448) rotate(-90)" font-size="11" text-anchor="end" textLength="26.5" lengthAdjust="spacingAndGlyphs" fill="#000">2005</text><line x1="170.50" y1="434" x2="170.50" y2="440" stroke="#000" stroke-width="1"/><text transform="translate(174.70,448) rotate(-90)" font-size="11" text-anchor="end" textLength="26.5" lengthAdjust="spacingAndGlyphs" fill="#000">2006</text><line x1="181.50" y1="434" x2="181.50" y2="440" stroke="#000" stroke-width="1"/><text transform="translate(185.70,448) rotate(-90)" font-size="11" text-anchor="end" textLength="26.5" lengthAdjust="spacingAndGlyphs" fill="#000">2007</text><line x1="192.50" y1="434" x2="192.50" y2="440" stroke="#000" stroke-width="1"/><text transform="translate(196.70,448) rotate(-90)" font-size="11" text-anchor="end" textLength="26.5" lengthAdjust="spacingAndGlyphs" fill="#000">2008</text><line x1="203.50" y1="434" x2="203.50" y2="440" stroke="#000" stroke-width="1"/><text transform="translate(207.70,448) rotate(-90)" font-size="11" text-anchor="end" textLength="26.5" lengthAdjust="spacingAndGlyphs" fill="#000">2009</text><line x1="214.50" y1="434" x2="214.50" y2="440" stroke="#000" stroke-width="1"/><text transform="translate(218.70,448) rotate(-90)" font-size="11" text-anchor="end" textLength="26.5" lengthAdjust="spacingAndGlyphs" fill="#000">2010</text><line x1="225.50" y1="434" x2="225.50" y2="440" stroke="#000" stroke-width="1"/><text transform="translate(229.70,448) rotate(-90)" font-size="11" text-anchor="end" textLength="26.5" lengthAdjust="spacingAndGlyphs" fill="#000">2011</text><line x1="235.50" y1="434" x2="235.50" y2="440" stroke="#000" stroke-width="1"/><text transform="translate(239.70,448) rotate(-90)" font-size="11" text-anchor="end" textLength="26.5" lengthAdjust="spacingAndGlyphs" fill="#000">2012</text><line x1="246.50" y1="434" x2="246.50" y2="440" stroke="#000" stroke-width="1"/><text transform="translate(250.70,448) rotate(-90)" font-size="11" text-anchor="end" textLength="26.5" lengthAdjust="spacingAndGlyphs" fill="#000">2013</text><line x1="257.50" y1="434" x2="257.50" y2="440" stroke="#000" stroke-width="1"/><text transform="translate(261.70,448) rotate(-90)" font-size="11" text-anchor="end" textLength="26.5" lengthAdjust="spacingAndGlyphs" fill="#000">2014</text><line x1="268.50" y1="434" x2="268.50" y2="440" stroke="#000" stroke-width="1"/><text transform="translate(272.70,448) rotate(-90)" font-size="11" text-anchor="end" textLength="26.5" lengthAdjust="spacingAndGlyphs" fill="#000">2015</text><line x1="279.50" y1="434" x2="279.50" y2="440" stroke="#000" stroke-width="1"/><text transform="translate(283.70,448) rotate(-90)" font-size="11" text-anchor="end" textLength="26.5" lengthAdjust="spacingAndGlyphs" fill="#000">2016</text><line x1="290.50" y1="434" x2="290.50" y2="440" stroke="#000" stroke-width="1"/><text transform="translate(294.70,448) rotate(-90)" font-size="11" text-anchor="end" textLength="26.5" lengthAdjust="spacingAndGlyphs" fill="#000">2017</text><line x1="301.50" y1="434" x2="301.50" y2="440" stroke="#000" stroke-width="1"/><text transform="translate(305.70,448) rotate(-90)" font-size="11" text-anchor="end" textLength="26.5" lengthAdjust="spacingAndGlyphs" fill="#000">2018</text><line x1="312.50" y1="434" x2="312.50" y2="440" stroke="#000" stroke-width="1"/><text transform="translate(316.70,448) rotate(-90)" font-size="11" text-anchor="end" textLength="26.5" lengthAdjust="spacingAndGlyphs" fill="#000">2019</text><line x1="323.50" y1="434" x2="323.50" y2="440" stroke="#000" stroke-width="1"/><text transform="translate(327.70,448) rotate(-90)" font-size="11" text-anchor="end" textLength="26.5" lengthAdjust="spacingAndGlyphs" fill="#000">2020</text><line x1="334.50" y1="434" x2="334.50" y2="440" stroke="#000" stroke-width="1"/><text transform="translate(338.70,448) rotate(-90)" font-size="11" text-anchor="end" textLength="26.5" lengthAdjust="spacingAndGlyphs" fill="#000">2021</text><line x1="345.50" y1="434" x2="345.50" y2="440" stroke="#000" stroke-width="1"/><text transform="translate(349.70,448) rotate(-90)" font-size="11" text-anchor="end" textLength="26.5" lengthAdjust="spacingAndGlyphs" fill="#000">2022</text><line x1="356.50" y1="434" x2="356.50" y2="440" stroke="#000" stroke-width="1"/><text transform="translate(360.70,448) rotate(-90)" font-size="11" text-anchor="end" textLength="26.5" lengthAdjust="spacingAndGlyphs" fill="#000">2023</text><line x1="367.50" y1="434" x2="367.50" y2="440" stroke="#000" stroke-width="1"/><text transform="translate(371.70,448) rotate(-90)" font-size="11" text-anchor="end" textLength="26.5" lengthAdjust="spacingAndGlyphs" fill="#000">2024</text><line x1="378.50" y1="434" x2="378.50" y2="440" stroke="#000" stroke-width="1"/><text transform="translate(382.70,448) rotate(-90)" font-size="11" text-anchor="end" textLength="26.5" lengthAdjust="spacingAndGlyphs" fill="#000">2025</text><line x1="389.50" y1="434" x2="389.50" y2="440" stroke="#000" stroke-width="1"/><text transform="translate(393.70,448) rotate(-90)" font-size="11" text-anchor="end" textLength="26.5" lengthAdjust="spacingAndGlyphs" fill="#000">2026</text><rect x="403" y="83" width="19" height="352" fill="#000"/><rect x="404" y="84" width="17" height="350" fill="url(#cb)"/><line x1="421" y1="83.50" x2="427" y2="83.50" stroke="#000" stroke-width="1"/><text x="437.4" y="87.80" font-size="11" textLength="56.72" lengthAdjust="spacingAndGlyphs" fill="#000">&gt; 966.458</text><line x1="421" y1="111.50" x2="427" y2="111.50" stroke="#000" stroke-width="1"/><text x="437.4" y="115.80" font-size="11" textLength="19.50" lengthAdjust="spacingAndGlyphs" fill="#000">900</text><line x1="421" y1="153.50" x2="427" y2="153.50" stroke="#000" stroke-width="1"/><text x="437.4" y="157.80" font-size="11" textLength="19.50" lengthAdjust="spacingAndGlyphs" fill="#000">800</text><line x1="421" y1="196.50" x2="427" y2="196.50" stroke="#000" stroke-width="1"/><text x="437.4" y="200.80" font-size="11" textLength="19.50" lengthAdjust="spacingAndGlyphs" fill="#000">700</text><line x1="421" y1="238.50" x2="427" y2="238.50" stroke="#000" stroke-width="1"/><text x="437.4" y="242.80" font-size="11" textLength="19.50" lengthAdjust="spacingAndGlyphs" fill="#000">600</text><line x1="421" y1="280.50" x2="427" y2="280.50" stroke="#000" stroke-width="1"/><text x="437.4" y="284.80" font-size="11" textLength="19.50" lengthAdjust="spacingAndGlyphs" fill="#000">500</text><line x1="421" y1="323.50" x2="427" y2="323.50" stroke="#000" stroke-width="1"/><text x="437.4" y="327.80" font-size="11" textLength="19.50" lengthAdjust="spacingAndGlyphs" fill="#000">400</text><line x1="421" y1="365.50" x2="427" y2="365.50" stroke="#000" stroke-width="1"/><text x="437.4" y="369.80" font-size="11" textLength="19.50" lengthAdjust="spacingAndGlyphs" fill="#000">300</text><line x1="421" y1="407.50" x2="427" y2="407.50" stroke="#000" stroke-width="1"/><text x="437.4" y="411.80" font-size="11" textLength="19.50" lengthAdjust="spacingAndGlyphs" fill="#000">200</text><line x1="421" y1="434.50" x2="427" y2="434.50" stroke="#000" stroke-width="1"/><text x="437.4" y="438.80" font-size="11" textLength="56.72" lengthAdjust="spacingAndGlyphs" fill="#000">&lt; 137.058</text><text x="123.3" y="24.8" font-size="13.6" font-weight="bold" textLength="193" lengthAdjust="spacingAndGlyphs" fill="#000">FOL Folsom Lake, American R</text><text x="65.8" y="43.7" font-size="13.6" font-weight="bold" textLength="307.5" lengthAdjust="spacingAndGlyphs" fill="#000">WY 1995-2026 Daily Average Reservoir Storage</text><text x="93.2" y="62.5" font-size="13.6" font-weight="bold" textLength="253" lengthAdjust="spacingAndGlyphs" fill="#000">Observed Range 137.058 : 966.458 TAF</text><text x="5" y="488.7" font-size="11" textLength="208" lengthAdjust="spacingAndGlyphs" fill="#4f5a62">www.cbr.washington.edu/sacramento/</text><text x="350.3" y="488.7" font-size="11" textLength="144.5" lengthAdjust="spacingAndGlyphs" fill="#4f5a62">23 Nov 2025 15:45:08 PST</text></svg></body></html>
